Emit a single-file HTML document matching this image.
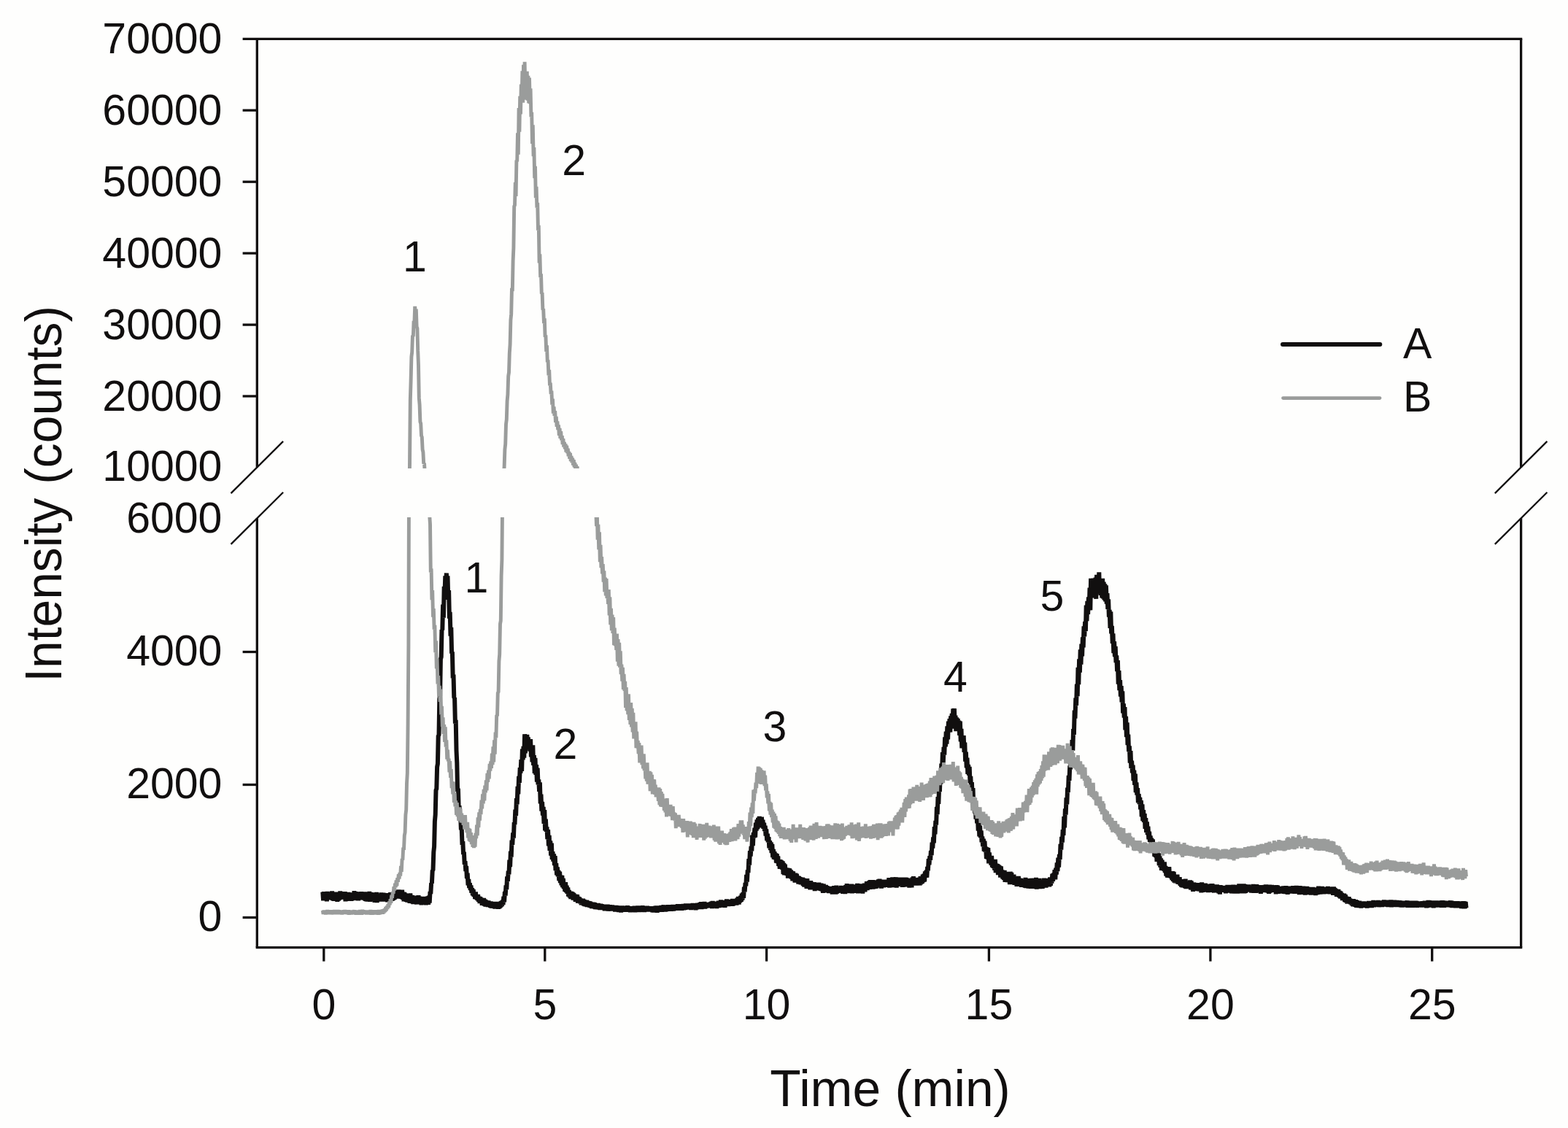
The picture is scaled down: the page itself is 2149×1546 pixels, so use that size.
<!DOCTYPE html>
<html lang="en"><head><meta charset="utf-8"><title>Chromatogram</title>
<style>html,body{margin:0;padding:0;background:#fefefd;}body{width:2149px;height:1546px;overflow:hidden;}svg{display:block;}text{font-family:'Liberation Sans', sans-serif;fill:#110f0f;}</style></head><body>
<svg width="2149" height="1546" viewBox="0 0 2149 1546">
<rect width="2149" height="1546" fill="#fefefd"/>
<defs><clipPath id="cu"><rect x="352.3" y="53.3" width="1732.3" height="588.7"/></clipPath><clipPath id="cl"><rect x="352.3" y="709.0" width="1732.3" height="589.5999999999999"/></clipPath></defs>
<g fill="none" stroke-linejoin="bevel" stroke-linecap="butt">
<polyline clip-path="url(#cl)" stroke="#110f0f" stroke-width="6.0" points="442.3,1222.5 443.1,1234.3 443.9,1222.1 444.7,1232.2 445.5,1223.6 446.3,1234.3 447.1,1224.5 447.9,1235.2 448.7,1222.0 449.5,1233.0 450.3,1223.6 451.1,1232.4 451.9,1223.8 452.7,1233.0 453.5,1223.0 454.3,1233.3 455.1,1221.4 455.9,1234.1 456.7,1222.7 457.5,1234.7 458.3,1224.0 459.1,1232.1 459.9,1222.7 460.7,1231.8 461.5,1224.6 462.3,1235.7 463.1,1223.2 463.9,1234.6 464.7,1222.7 465.5,1233.3 466.3,1221.4 467.1,1232.5 467.9,1224.8 468.7,1232.4 469.5,1222.6 470.3,1232.4 471.1,1223.7 471.9,1231.8 472.7,1222.3 473.5,1235.3 474.3,1224.1 475.1,1234.7 475.9,1223.3 476.7,1234.6 477.5,1223.0 478.3,1234.3 479.1,1224.7 479.9,1233.7 480.7,1223.4 481.5,1234.8 482.3,1223.9 483.1,1233.9 483.9,1224.9 484.7,1233.3 485.5,1221.1 486.3,1232.6 487.1,1222.6 487.9,1233.4 488.7,1222.2 489.5,1234.1 490.3,1223.4 491.1,1234.3 491.9,1223.3 492.7,1232.8 493.5,1224.1 494.3,1233.2 495.1,1222.2 495.9,1232.8 496.7,1222.5 497.5,1233.2 498.3,1223.5 499.1,1233.5 499.9,1222.4 500.7,1234.7 501.5,1225.3 502.3,1235.3 503.1,1222.9 503.9,1235.6 504.7,1224.1 505.5,1233.3 506.3,1221.9 507.1,1235.8 507.9,1224.3 508.7,1233.5 509.5,1223.3 510.3,1235.0 511.1,1224.3 511.9,1234.2 512.7,1224.8 513.5,1236.7 514.3,1226.0 515.1,1235.8 515.9,1223.0 516.7,1237.1 517.5,1225.3 518.3,1235.5 519.1,1226.2 519.9,1234.4 520.7,1226.3 521.5,1233.7 522.3,1223.4 523.1,1235.4 523.9,1225.1 524.7,1235.0 525.5,1223.8 526.3,1234.5 527.1,1224.7 527.9,1235.5 528.7,1225.4 529.5,1235.1 530.3,1224.2 531.1,1236.2 531.9,1226.0 532.7,1236.1 533.5,1226.2 534.3,1235.3 535.1,1223.3 535.9,1233.0 536.7,1224.1 537.5,1234.7 538.3,1224.9 539.1,1233.7 539.9,1222.0 540.7,1232.9 541.5,1219.7 542.3,1231.5 543.1,1222.8 543.9,1231.3 544.7,1222.3 545.5,1230.8 546.3,1219.4 547.1,1231.4 547.9,1221.4 548.7,1230.6 549.5,1219.9 550.3,1231.8 551.1,1219.8 551.9,1232.7 552.7,1222.8 553.5,1235.3 554.3,1222.9 555.1,1234.3 555.9,1224.5 556.7,1235.8 557.5,1225.3 558.3,1236.6 559.1,1227.0 559.9,1235.7 560.7,1226.3 561.5,1237.8 562.3,1224.4 563.1,1237.9 563.9,1226.9 564.7,1238.0 565.5,1227.3 566.3,1239.0 567.1,1228.4 567.9,1237.5 568.7,1229.1 569.5,1236.7 570.3,1229.3 571.1,1239.4 571.9,1227.7 572.7,1237.3 573.5,1227.2 574.3,1238.6 575.1,1228.8 575.9,1239.2 576.7,1229.8 577.5,1240.2 578.3,1229.5 579.1,1239.4 579.9,1229.1 580.7,1238.3 581.5,1230.8 582.3,1239.0 583.1,1228.9 583.9,1240.2 584.7,1229.0 585.5,1238.2 586.3,1228.5 587.1,1239.8 587.9,1227.7 588.7,1237.6 589.5,1222.0 590.3,1225.2 591.1,1210.4 591.9,1210.5 592.7,1193.1 593.5,1192.6 594.3,1167.8 595.1,1160.3 595.9,1125.8 596.7,1116.5 597.5,1082.8 598.3,1081.5 599.1,1051.1 599.9,1046.9 600.7,1008.4 601.5,1007.8 602.3,958.0 603.1,953.2 603.9,903.4 604.7,900.4 605.5,863.0 606.3,863.4 607.1,828.5 607.9,846.8 608.7,803.9 609.5,814.0 610.3,789.4 611.1,802.3 611.9,785.5 612.7,808.8 613.5,789.2 614.3,821.8 615.1,809.0 615.9,847.6 616.7,838.8 617.5,871.6 618.3,859.8 619.1,895.6 619.9,893.3 620.7,929.4 621.5,924.5 622.3,956.1 623.1,956.6 623.9,991.6 624.7,986.7 625.5,1028.6 626.3,1045.3 627.1,1085.0 627.9,1080.6 628.7,1109.3 629.5,1104.1 630.3,1120.7 631.1,1117.0 631.9,1137.4 632.7,1134.8 633.5,1158.0 634.3,1153.1 635.1,1171.0 635.9,1167.7 636.7,1184.8 637.5,1180.2 638.3,1194.0 639.1,1187.0 639.9,1204.0 640.7,1196.7 641.5,1213.3 642.3,1205.0 643.1,1217.0 643.9,1210.3 644.7,1220.0 645.5,1213.6 646.3,1223.8 647.1,1217.3 647.9,1227.3 648.7,1218.9 649.5,1228.7 650.3,1222.5 651.1,1231.9 651.9,1222.5 652.7,1232.4 653.5,1226.2 654.3,1233.9 655.1,1226.1 655.9,1235.7 656.7,1228.7 657.5,1238.0 658.3,1229.3 659.1,1237.8 659.9,1230.7 660.7,1240.7 661.5,1231.9 662.3,1240.7 663.1,1231.0 663.9,1241.6 664.7,1232.8 665.5,1242.4 666.3,1233.7 667.1,1242.2 667.9,1235.4 668.7,1243.0 669.5,1234.6 670.3,1242.8 671.1,1235.9 671.9,1243.7 672.7,1235.4 673.5,1244.6 674.3,1236.7 675.1,1243.7 675.9,1235.9 676.7,1244.7 677.5,1236.3 678.3,1245.5 679.1,1236.1 679.9,1245.4 680.7,1236.5 681.5,1244.8 682.3,1236.8 683.1,1245.8 683.9,1236.4 684.7,1245.0 685.5,1235.7 686.3,1243.5 687.1,1235.0 687.9,1242.0 688.7,1233.7 689.5,1240.1 690.3,1228.6 691.1,1236.4 691.9,1222.0 692.7,1227.5 693.5,1213.5 694.3,1219.0 695.1,1201.4 695.9,1207.9 696.7,1193.6 697.5,1198.3 698.3,1178.5 699.1,1188.1 699.9,1166.6 700.7,1174.6 701.5,1151.7 702.3,1157.8 703.1,1141.5 703.9,1148.7 704.7,1127.0 705.5,1130.1 706.3,1109.7 707.1,1118.2 707.9,1094.1 708.7,1102.5 709.5,1077.8 710.3,1088.3 711.1,1063.9 711.9,1072.9 712.7,1052.2 713.5,1059.5 714.3,1041.1 715.1,1056.8 715.9,1026.6 716.7,1041.7 717.5,1022.9 718.3,1038.7 719.1,1006.2 719.9,1032.5 720.7,1009.4 721.5,1023.5 722.3,1006.9 723.1,1020.5 723.9,1010.4 724.7,1027.4 725.5,1014.2 726.3,1029.6 727.1,1013.0 727.9,1037.4 728.7,1024.2 729.5,1044.3 730.3,1021.4 731.1,1048.8 731.9,1035.1 732.7,1059.9 733.5,1038.9 734.3,1061.9 735.1,1048.2 735.9,1071.6 736.7,1052.7 737.5,1075.4 738.3,1068.4 739.1,1084.8 739.9,1072.3 740.7,1101.4 741.5,1088.6 742.3,1111.6 743.1,1098.8 743.9,1117.6 744.7,1105.9 745.5,1129.0 746.3,1110.1 747.1,1138.3 747.9,1122.7 748.7,1139.8 749.5,1133.3 750.3,1150.2 751.1,1137.2 751.9,1159.3 752.7,1144.9 753.5,1166.0 754.3,1152.4 755.1,1172.7 755.9,1155.7 756.7,1177.9 757.5,1167.1 758.3,1180.6 759.1,1170.5 759.9,1186.0 760.7,1173.1 761.5,1193.2 762.3,1183.2 763.1,1199.3 763.9,1188.5 764.7,1201.4 765.5,1192.8 766.3,1207.1 767.1,1194.6 767.9,1210.0 768.7,1199.6 769.5,1213.4 770.3,1199.8 771.1,1216.0 771.9,1203.9 772.7,1218.1 773.5,1209.2 774.3,1221.9 775.1,1209.1 775.9,1223.1 776.7,1213.8 777.5,1224.9 778.3,1216.5 779.1,1228.6 779.9,1220.0 780.7,1230.0 781.5,1221.7 782.3,1232.1 783.1,1222.0 783.9,1231.9 784.7,1222.8 785.5,1233.4 786.3,1224.1 787.1,1233.5 787.9,1225.8 788.7,1235.7 789.5,1226.0 790.3,1235.4 791.1,1226.2 791.9,1237.6 792.7,1229.0 793.5,1237.2 794.3,1229.7 795.1,1238.3 795.9,1231.4 796.7,1240.3 797.5,1232.1 798.3,1240.1 799.1,1231.8 799.9,1241.2 800.7,1232.9 801.5,1242.0 802.3,1233.8 803.1,1242.3 803.9,1233.8 804.7,1242.9 805.5,1234.7 806.3,1243.0 807.1,1235.4 807.9,1243.5 808.7,1235.6 809.5,1244.0 810.3,1236.6 811.1,1245.0 811.9,1237.0 812.7,1244.7 813.5,1236.9 814.3,1245.2 815.1,1237.2 815.9,1246.1 816.7,1238.1 817.5,1246.3 818.3,1239.0 819.1,1246.0 819.9,1238.0 820.7,1246.5 821.5,1238.7 822.3,1246.9 823.1,1238.8 823.9,1247.0 824.7,1239.4 825.5,1246.6 826.3,1239.9 827.1,1247.0 827.9,1239.9 828.7,1248.2 829.5,1240.2 830.3,1247.6 831.1,1240.4 831.9,1248.0 832.7,1239.7 833.5,1248.6 834.3,1240.8 835.1,1247.9 835.9,1240.2 836.7,1248.4 837.5,1240.7 838.3,1247.9 839.1,1240.6 839.9,1248.4 840.7,1241.2 841.5,1248.4 842.3,1241.5 843.1,1249.4 843.9,1241.0 844.7,1249.0 845.5,1241.2 846.3,1249.1 847.1,1241.9 847.9,1250.0 848.7,1242.2 849.5,1249.0 850.3,1241.6 851.1,1250.4 851.9,1242.5 852.7,1249.7 853.5,1241.5 854.3,1249.3 855.1,1242.6 855.9,1249.7 856.7,1242.4 857.5,1249.7 858.3,1242.2 859.1,1249.7 859.9,1241.3 860.7,1249.5 861.5,1242.0 862.3,1249.7 863.1,1242.5 863.9,1250.2 864.7,1242.4 865.5,1249.3 866.3,1242.5 867.1,1249.0 867.9,1242.3 868.7,1250.0 869.5,1241.9 870.3,1250.3 871.1,1242.7 871.9,1249.4 872.7,1241.8 873.5,1249.6 874.3,1241.6 875.1,1249.9 875.9,1242.1 876.7,1250.0 877.5,1241.9 878.3,1249.5 879.1,1242.6 879.9,1249.6 880.7,1241.4 881.5,1249.2 882.3,1242.3 883.1,1249.9 883.9,1242.8 884.7,1249.2 885.5,1242.7 886.3,1249.4 887.1,1241.7 887.9,1249.1 888.7,1242.7 889.5,1249.3 890.3,1242.3 891.1,1249.1 891.9,1242.3 892.7,1249.3 893.5,1242.6 894.3,1250.1 895.1,1242.7 895.9,1250.4 896.7,1242.3 897.5,1249.5 898.3,1241.7 899.1,1249.1 899.9,1241.5 900.7,1250.7 901.5,1241.8 902.3,1248.8 903.1,1241.7 903.9,1249.5 904.7,1241.5 905.5,1248.9 906.3,1241.1 907.1,1249.7 907.9,1242.2 908.7,1248.8 909.5,1240.4 910.3,1249.4 911.1,1240.8 911.9,1249.5 912.7,1240.5 913.5,1249.0 914.3,1240.9 915.1,1248.7 915.9,1240.4 916.7,1248.6 917.5,1241.1 918.3,1248.4 919.1,1241.4 919.9,1248.6 920.7,1240.3 921.5,1248.0 922.3,1240.0 923.1,1248.4 923.9,1240.6 924.7,1247.3 925.5,1240.8 926.3,1247.3 927.1,1240.4 927.9,1247.6 928.7,1239.4 929.5,1247.2 930.3,1239.3 931.1,1247.7 931.9,1239.3 932.7,1247.2 933.5,1240.4 934.3,1247.7 935.1,1239.9 935.9,1246.6 936.7,1239.0 937.5,1247.3 938.3,1239.8 939.1,1246.6 939.9,1238.5 940.7,1246.5 941.5,1238.8 942.3,1246.1 943.1,1238.5 943.9,1246.0 944.7,1238.8 945.5,1245.8 946.3,1238.6 947.1,1246.9 947.9,1239.2 948.7,1245.9 949.5,1238.1 950.3,1246.3 951.1,1238.6 951.9,1246.2 952.7,1238.3 953.5,1247.2 954.3,1238.4 955.1,1246.2 955.9,1237.7 956.7,1246.0 957.5,1238.0 958.3,1245.9 959.1,1237.4 959.9,1245.2 960.7,1236.3 961.5,1246.0 962.3,1237.1 963.1,1244.7 963.9,1236.9 964.7,1244.7 965.5,1236.1 966.3,1245.5 967.1,1237.1 967.9,1244.4 968.7,1237.2 969.5,1243.9 970.3,1237.2 971.1,1244.1 971.9,1237.1 972.7,1243.7 973.5,1236.5 974.3,1243.8 975.1,1235.9 975.9,1244.9 976.7,1234.9 977.5,1244.1 978.3,1236.0 979.1,1243.1 979.9,1236.5 980.7,1244.3 981.5,1235.7 982.3,1245.0 983.1,1236.3 983.9,1243.6 984.7,1234.8 985.5,1243.9 986.3,1236.0 987.1,1243.1 987.9,1233.6 988.7,1243.4 989.5,1235.6 990.3,1242.3 991.1,1234.1 991.9,1242.5 992.7,1234.5 993.5,1243.8 994.3,1234.6 995.1,1241.4 995.9,1232.6 996.7,1241.4 997.5,1234.6 998.3,1242.0 999.1,1232.9 999.9,1241.8 1000.7,1233.2 1001.5,1241.2 1002.3,1233.2 1003.1,1241.7 1003.9,1232.1 1004.7,1241.6 1005.5,1232.6 1006.3,1240.2 1007.1,1232.2 1007.9,1240.5 1008.7,1232.6 1009.5,1240.4 1010.3,1230.7 1011.1,1238.9 1011.9,1228.9 1012.7,1239.4 1013.5,1229.6 1014.3,1236.9 1015.1,1227.8 1015.9,1235.7 1016.7,1224.6 1017.5,1233.4 1018.3,1223.3 1019.1,1230.9 1019.9,1215.7 1020.7,1222.4 1021.5,1210.0 1022.3,1214.4 1023.1,1199.0 1023.9,1208.7 1024.7,1192.5 1025.5,1196.2 1026.3,1177.1 1027.1,1185.7 1027.9,1166.1 1028.7,1173.5 1029.5,1159.9 1030.3,1166.5 1031.1,1144.7 1031.9,1159.1 1032.7,1140.8 1033.5,1148.4 1034.3,1134.6 1035.1,1147.6 1035.9,1127.7 1036.7,1138.6 1037.5,1123.5 1038.3,1136.4 1039.1,1120.9 1039.9,1132.8 1040.7,1119.0 1041.5,1132.4 1042.3,1120.3 1043.1,1134.4 1043.9,1119.8 1044.7,1132.3 1045.5,1123.8 1046.3,1135.9 1047.1,1127.8 1047.9,1139.1 1048.7,1131.7 1049.5,1145.6 1050.3,1136.5 1051.1,1152.1 1051.9,1142.7 1052.7,1154.4 1053.5,1147.2 1054.3,1162.4 1055.1,1152.2 1055.9,1165.1 1056.7,1154.3 1057.5,1169.1 1058.3,1156.9 1059.1,1175.0 1059.9,1163.9 1060.7,1177.5 1061.5,1167.3 1062.3,1177.9 1063.1,1169.4 1063.9,1182.5 1064.7,1170.1 1065.5,1183.1 1066.3,1173.5 1067.1,1186.8 1067.9,1178.2 1068.7,1190.9 1069.5,1178.2 1070.3,1189.7 1071.1,1179.4 1071.9,1191.5 1072.7,1180.5 1073.5,1198.0 1074.3,1183.0 1075.1,1199.4 1075.9,1184.8 1076.7,1198.4 1077.5,1189.5 1078.3,1199.7 1079.1,1189.6 1079.9,1203.5 1080.7,1190.0 1081.5,1202.9 1082.3,1190.5 1083.1,1202.4 1083.9,1192.5 1084.7,1204.5 1085.5,1193.9 1086.3,1207.3 1087.1,1194.4 1087.9,1206.3 1088.7,1197.3 1089.5,1209.6 1090.3,1196.7 1091.1,1208.6 1091.9,1197.7 1092.7,1209.6 1093.5,1200.5 1094.3,1211.6 1095.1,1201.1 1095.9,1211.4 1096.7,1202.2 1097.5,1212.2 1098.3,1203.7 1099.1,1211.8 1099.9,1202.6 1100.7,1214.1 1101.5,1203.6 1102.3,1215.5 1103.1,1205.7 1103.9,1214.4 1104.7,1206.2 1105.5,1217.7 1106.3,1204.2 1107.1,1216.1 1107.9,1207.3 1108.7,1217.4 1109.5,1208.3 1110.3,1219.2 1111.1,1207.3 1111.9,1218.8 1112.7,1209.0 1113.5,1218.9 1114.3,1210.3 1115.1,1218.7 1115.9,1209.1 1116.7,1221.1 1117.5,1210.2 1118.3,1220.1 1119.1,1210.0 1119.9,1219.2 1120.7,1210.1 1121.5,1219.5 1122.3,1209.8 1123.1,1220.3 1123.9,1212.3 1124.7,1220.7 1125.5,1210.6 1126.3,1221.3 1127.1,1212.2 1127.9,1223.7 1128.7,1211.6 1129.5,1221.4 1130.3,1213.2 1131.1,1223.3 1131.9,1213.0 1132.7,1222.9 1133.5,1214.4 1134.3,1222.2 1135.1,1215.5 1135.9,1224.0 1136.7,1215.6 1137.5,1223.2 1138.3,1215.0 1139.1,1223.0 1139.9,1216.0 1140.7,1225.5 1141.5,1215.0 1142.3,1223.6 1143.1,1214.2 1143.9,1223.0 1144.7,1215.5 1145.5,1225.6 1146.3,1213.6 1147.1,1224.6 1147.9,1215.8 1148.7,1223.7 1149.5,1215.8 1150.3,1223.3 1151.1,1215.7 1151.9,1222.9 1152.7,1213.9 1153.5,1222.7 1154.3,1215.1 1155.1,1224.8 1155.9,1214.4 1156.7,1223.0 1157.5,1215.0 1158.3,1225.0 1159.1,1213.2 1159.9,1223.4 1160.7,1211.3 1161.5,1222.1 1162.3,1214.3 1163.1,1223.4 1163.9,1212.3 1164.7,1224.0 1165.5,1213.1 1166.3,1223.2 1167.1,1211.6 1167.9,1224.2 1168.7,1214.6 1169.5,1222.0 1170.3,1212.8 1171.1,1223.9 1171.9,1212.5 1172.7,1222.8 1173.5,1214.2 1174.3,1221.6 1175.1,1210.9 1175.9,1224.2 1176.7,1213.9 1177.5,1223.8 1178.3,1211.4 1179.1,1222.1 1179.9,1212.9 1180.7,1221.1 1181.5,1212.9 1182.3,1224.6 1183.1,1211.7 1183.9,1221.8 1184.7,1210.7 1185.5,1222.4 1186.3,1211.7 1187.1,1219.9 1187.9,1208.3 1188.7,1219.9 1189.5,1211.0 1190.3,1217.9 1191.1,1207.6 1191.9,1218.9 1192.7,1206.3 1193.5,1218.1 1194.3,1207.9 1195.1,1217.4 1195.9,1206.1 1196.7,1218.6 1197.5,1208.3 1198.3,1216.0 1199.1,1207.3 1199.9,1217.9 1200.7,1206.4 1201.5,1217.4 1202.3,1206.4 1203.1,1215.6 1203.9,1205.4 1204.7,1214.8 1205.5,1204.7 1206.3,1215.2 1207.1,1206.2 1207.9,1217.5 1208.7,1205.8 1209.5,1214.5 1210.3,1206.0 1211.1,1216.3 1211.9,1207.0 1212.7,1214.9 1213.5,1207.0 1214.3,1215.7 1215.1,1205.8 1215.9,1215.4 1216.7,1206.0 1217.5,1215.8 1218.3,1203.1 1219.1,1216.5 1219.9,1203.7 1220.7,1215.1 1221.5,1205.1 1222.3,1216.2 1223.1,1202.4 1223.9,1215.9 1224.7,1205.5 1225.5,1215.6 1226.3,1205.3 1227.1,1215.1 1227.9,1202.3 1228.7,1216.5 1229.5,1203.6 1230.3,1214.8 1231.1,1204.9 1231.9,1214.1 1232.7,1202.7 1233.5,1213.7 1234.3,1204.0 1235.1,1213.2 1235.9,1203.8 1236.7,1215.8 1237.5,1202.7 1238.3,1215.5 1239.1,1203.2 1239.9,1213.3 1240.7,1202.7 1241.5,1213.3 1242.3,1203.0 1243.1,1215.4 1243.9,1203.7 1244.7,1214.2 1245.5,1205.0 1246.3,1216.6 1247.1,1204.7 1247.9,1212.9 1248.7,1205.1 1249.5,1216.3 1250.3,1202.6 1251.1,1212.9 1251.9,1201.2 1252.7,1213.2 1253.5,1205.0 1254.3,1212.9 1255.1,1203.5 1255.9,1213.6 1256.7,1203.9 1257.5,1212.8 1258.3,1203.1 1259.1,1213.0 1259.9,1203.8 1260.7,1213.4 1261.5,1201.3 1262.3,1212.1 1263.1,1201.3 1263.9,1210.9 1264.7,1198.8 1265.5,1209.1 1266.3,1197.7 1267.1,1208.3 1267.9,1194.3 1268.7,1202.8 1269.5,1192.8 1270.3,1202.7 1271.1,1187.8 1271.9,1193.3 1272.7,1177.2 1273.5,1185.2 1274.3,1173.2 1275.1,1178.8 1275.9,1165.9 1276.7,1172.1 1277.5,1154.7 1278.3,1162.5 1279.1,1147.5 1279.9,1155.3 1280.7,1133.2 1281.5,1143.3 1282.3,1125.0 1283.1,1130.7 1283.9,1105.8 1284.7,1116.2 1285.5,1092.0 1286.3,1101.8 1287.1,1079.6 1287.9,1085.1 1288.7,1063.4 1289.5,1074.4 1290.3,1046.5 1291.1,1056.3 1291.9,1031.0 1292.7,1047.9 1293.5,1023.8 1294.3,1034.7 1295.1,1010.4 1295.9,1023.3 1296.7,1002.6 1297.5,1019.6 1298.3,995.4 1299.1,1013.3 1299.9,988.6 1300.7,1003.6 1301.5,985.1 1302.3,1003.7 1303.1,981.4 1303.9,998.7 1304.7,977.8 1305.5,998.6 1306.3,971.3 1307.1,989.7 1307.9,971.0 1308.7,995.7 1309.5,980.7 1310.3,1002.2 1311.1,983.3 1311.9,999.7 1312.7,984.8 1313.5,1001.2 1314.3,987.7 1315.1,1007.9 1315.9,988.6 1316.7,1016.4 1317.5,998.9 1318.3,1025.4 1319.1,1008.2 1319.9,1024.8 1320.7,1008.2 1321.5,1030.8 1322.3,1017.6 1323.1,1043.6 1323.9,1030.7 1324.7,1052.4 1325.5,1038.6 1326.3,1060.9 1327.1,1048.0 1327.9,1062.6 1328.7,1050.9 1329.5,1073.1 1330.3,1063.8 1331.1,1082.2 1331.9,1072.2 1332.7,1092.5 1333.5,1080.2 1334.3,1105.7 1335.1,1096.4 1335.9,1114.6 1336.7,1100.5 1337.5,1122.6 1338.3,1110.4 1339.1,1128.3 1339.9,1117.8 1340.7,1138.6 1341.5,1125.0 1342.3,1146.4 1343.1,1131.7 1343.9,1148.2 1344.7,1138.5 1345.5,1154.4 1346.3,1146.4 1347.1,1160.2 1347.9,1149.7 1348.7,1166.5 1349.5,1152.6 1350.3,1167.7 1351.1,1160.7 1351.9,1176.9 1352.7,1161.3 1353.5,1177.7 1354.3,1162.0 1355.1,1183.3 1355.9,1168.5 1356.7,1182.2 1357.5,1173.9 1358.3,1185.5 1359.1,1172.8 1359.9,1188.5 1360.7,1178.9 1361.5,1189.9 1362.3,1179.6 1363.1,1192.6 1363.9,1177.8 1364.7,1196.0 1365.5,1183.6 1366.3,1195.3 1367.1,1184.2 1367.9,1199.1 1368.7,1185.5 1369.5,1198.8 1370.3,1186.6 1371.1,1202.7 1371.9,1187.5 1372.7,1200.9 1373.5,1192.5 1374.3,1204.5 1375.1,1193.1 1375.9,1205.8 1376.7,1193.0 1377.5,1208.8 1378.3,1196.2 1379.1,1207.6 1379.9,1197.2 1380.7,1209.1 1381.5,1194.9 1382.3,1207.3 1383.1,1198.7 1383.9,1212.0 1384.7,1194.8 1385.5,1208.2 1386.3,1196.0 1387.1,1209.4 1387.9,1199.9 1388.7,1211.6 1389.5,1198.7 1390.3,1212.9 1391.1,1202.2 1391.9,1212.2 1392.7,1201.5 1393.5,1214.7 1394.3,1203.6 1395.1,1213.3 1395.9,1200.9 1396.7,1213.3 1397.5,1203.8 1398.3,1214.2 1399.1,1203.9 1399.9,1215.9 1400.7,1205.0 1401.5,1213.5 1402.3,1205.3 1403.1,1215.7 1403.9,1204.9 1404.7,1216.6 1405.5,1203.0 1406.3,1217.0 1407.1,1205.6 1407.9,1213.8 1408.7,1205.3 1409.5,1217.6 1410.3,1204.2 1411.1,1214.5 1411.9,1204.6 1412.7,1217.8 1413.5,1203.8 1414.3,1217.2 1415.1,1204.3 1415.9,1217.8 1416.7,1206.3 1417.5,1215.2 1418.3,1205.0 1419.1,1215.4 1419.9,1203.0 1420.7,1218.5 1421.5,1205.7 1422.3,1216.8 1423.1,1204.2 1423.9,1215.9 1424.7,1204.0 1425.5,1218.0 1426.3,1206.2 1427.1,1215.8 1427.9,1206.9 1428.7,1217.8 1429.5,1206.5 1430.3,1214.3 1431.1,1203.7 1431.9,1216.2 1432.7,1204.2 1433.5,1216.5 1434.3,1206.3 1435.1,1213.8 1435.9,1204.3 1436.7,1213.3 1437.5,1203.9 1438.3,1215.4 1439.1,1202.4 1439.9,1213.8 1440.7,1203.2 1441.5,1210.6 1442.3,1197.8 1443.1,1207.9 1443.9,1196.7 1444.7,1205.1 1445.5,1192.1 1446.3,1205.4 1447.1,1189.7 1447.9,1198.5 1448.7,1182.5 1449.5,1194.2 1450.3,1175.6 1451.1,1188.6 1451.9,1170.8 1452.7,1178.0 1453.5,1156.8 1454.3,1164.6 1455.1,1146.9 1455.9,1154.7 1456.7,1137.1 1457.5,1144.8 1458.3,1119.2 1459.1,1134.4 1459.9,1108.3 1460.7,1116.6 1461.5,1093.3 1462.3,1102.4 1463.1,1079.6 1463.9,1086.0 1464.7,1062.8 1465.5,1069.9 1466.3,1049.4 1467.1,1054.5 1467.9,1026.3 1468.7,1041.0 1469.5,1014.2 1470.3,1028.6 1471.1,999.2 1471.9,1007.0 1472.7,973.6 1473.5,984.6 1474.3,956.7 1475.1,967.0 1475.9,937.5 1476.7,954.3 1477.5,914.9 1478.3,938.4 1479.1,903.4 1479.9,921.7 1480.7,890.3 1481.5,910.9 1482.3,882.7 1483.1,899.3 1483.9,873.4 1484.7,887.3 1485.5,858.3 1486.3,872.5 1487.1,851.9 1487.9,865.2 1488.7,829.6 1489.5,851.1 1490.3,823.8 1491.1,841.9 1491.9,818.3 1492.7,834.5 1493.5,805.7 1494.3,836.4 1495.1,792.8 1495.9,819.5 1496.7,795.5 1497.5,819.4 1498.3,792.6 1499.1,816.0 1499.9,798.7 1500.7,817.0 1501.5,791.6 1502.3,820.8 1503.1,787.8 1503.9,810.1 1504.7,788.8 1505.5,812.3 1506.3,784.4 1507.1,813.8 1507.9,794.4 1508.7,815.8 1509.5,792.9 1510.3,819.3 1511.1,792.9 1511.9,820.4 1512.7,797.5 1513.5,822.4 1514.3,800.4 1515.1,824.3 1515.9,802.3 1516.7,827.6 1517.5,813.1 1518.3,835.0 1519.1,821.4 1519.9,845.6 1520.7,835.8 1521.5,861.0 1522.3,838.3 1523.1,868.4 1523.9,857.8 1524.7,881.8 1525.5,868.3 1526.3,895.2 1527.1,879.0 1527.9,900.1 1528.7,885.8 1529.5,908.1 1530.3,898.3 1531.1,920.1 1531.9,905.0 1532.7,937.7 1533.5,919.2 1534.3,946.2 1535.1,932.2 1535.9,954.7 1536.7,940.1 1537.5,962.5 1538.3,947.3 1539.1,977.3 1539.9,964.5 1540.7,983.6 1541.5,969.0 1542.3,1000.4 1543.1,981.8 1543.9,1010.2 1544.7,990.3 1545.5,1021.1 1546.3,1006.6 1547.1,1030.1 1547.9,1022.3 1548.7,1045.7 1549.5,1029.2 1550.3,1052.9 1551.1,1042.7 1551.9,1059.3 1552.7,1048.7 1553.5,1070.2 1554.3,1055.6 1555.1,1075.9 1555.9,1060.6 1556.7,1086.1 1557.5,1072.5 1558.3,1089.6 1559.1,1080.0 1559.9,1100.2 1560.7,1088.2 1561.5,1102.2 1562.3,1092.9 1563.1,1109.4 1563.9,1097.1 1564.7,1119.3 1565.5,1102.3 1566.3,1125.2 1567.1,1110.2 1567.9,1126.8 1568.7,1115.0 1569.5,1135.8 1570.3,1121.2 1571.1,1141.0 1571.9,1126.4 1572.7,1144.0 1573.5,1132.7 1574.3,1150.3 1575.1,1139.6 1575.9,1153.9 1576.7,1145.4 1577.5,1159.3 1578.3,1148.6 1579.1,1163.1 1579.9,1150.4 1580.7,1168.5 1581.5,1155.4 1582.3,1173.9 1583.1,1161.7 1583.9,1175.1 1584.7,1161.4 1585.5,1180.9 1586.3,1165.2 1587.1,1179.6 1587.9,1169.3 1588.7,1186.2 1589.5,1173.3 1590.3,1188.5 1591.1,1176.4 1591.9,1192.9 1592.7,1178.7 1593.5,1190.8 1594.3,1182.1 1595.1,1193.6 1595.9,1181.5 1596.7,1196.0 1597.5,1187.0 1598.3,1200.6 1599.1,1189.4 1599.9,1202.5 1600.7,1188.3 1601.5,1202.9 1602.3,1188.2 1603.1,1202.5 1603.9,1194.6 1604.7,1203.5 1605.5,1195.0 1606.3,1206.1 1607.1,1194.2 1607.9,1207.8 1608.7,1194.9 1609.5,1209.7 1610.3,1199.8 1611.1,1210.2 1611.9,1200.9 1612.7,1209.4 1613.5,1198.6 1614.3,1211.6 1615.1,1202.9 1615.9,1211.7 1616.7,1202.3 1617.5,1213.8 1618.3,1205.4 1619.1,1215.5 1619.9,1205.4 1620.7,1216.4 1621.5,1205.3 1622.3,1216.1 1623.1,1206.0 1623.9,1217.1 1624.7,1204.7 1625.5,1218.0 1626.3,1208.3 1627.1,1217.4 1627.9,1208.2 1628.7,1216.6 1629.5,1208.8 1630.3,1217.4 1631.1,1206.4 1631.9,1219.4 1632.7,1207.5 1633.5,1219.6 1634.3,1209.6 1635.1,1221.9 1635.9,1209.6 1636.7,1219.0 1637.5,1210.0 1638.3,1220.8 1639.1,1211.4 1639.9,1219.5 1640.7,1210.5 1641.5,1221.0 1642.3,1210.3 1643.1,1221.4 1643.9,1212.1 1644.7,1220.0 1645.5,1211.8 1646.3,1223.3 1647.1,1209.4 1647.9,1222.7 1648.7,1211.1 1649.5,1220.1 1650.3,1212.4 1651.1,1222.5 1651.9,1210.7 1652.7,1222.0 1653.5,1212.5 1654.3,1221.5 1655.1,1211.8 1655.9,1223.0 1656.7,1212.8 1657.5,1221.2 1658.3,1213.9 1659.1,1221.2 1659.9,1211.6 1660.7,1222.7 1661.5,1211.3 1662.3,1221.2 1663.1,1213.2 1663.9,1223.4 1664.7,1212.5 1665.5,1221.4 1666.3,1213.3 1667.1,1223.2 1667.9,1212.6 1668.7,1222.7 1669.5,1214.2 1670.3,1224.3 1671.1,1213.5 1671.9,1225.5 1672.7,1213.3 1673.5,1221.9 1674.3,1214.3 1675.1,1222.0 1675.9,1214.5 1676.7,1222.4 1677.5,1213.9 1678.3,1222.8 1679.1,1214.1 1679.9,1224.3 1680.7,1215.1 1681.5,1222.3 1682.3,1212.9 1683.1,1223.5 1683.9,1214.0 1684.7,1222.8 1685.5,1213.8 1686.3,1222.7 1687.1,1212.9 1687.9,1224.4 1688.7,1214.4 1689.5,1222.2 1690.3,1212.8 1691.1,1222.9 1691.9,1213.4 1692.7,1224.5 1693.5,1213.0 1694.3,1224.5 1695.1,1213.9 1695.9,1224.4 1696.7,1213.9 1697.5,1222.7 1698.3,1211.5 1699.1,1222.9 1699.9,1212.9 1700.7,1224.2 1701.5,1211.5 1702.3,1222.3 1703.1,1213.9 1703.9,1223.1 1704.7,1211.5 1705.5,1224.4 1706.3,1212.2 1707.1,1223.7 1707.9,1212.9 1708.7,1222.4 1709.5,1213.7 1710.3,1221.6 1711.1,1212.4 1711.9,1222.3 1712.7,1214.4 1713.5,1222.3 1714.3,1213.7 1715.1,1223.4 1715.9,1214.5 1716.7,1222.0 1717.5,1212.0 1718.3,1223.7 1719.1,1212.7 1719.9,1222.9 1720.7,1213.8 1721.5,1223.7 1722.3,1212.3 1723.1,1222.7 1723.9,1213.9 1724.7,1221.8 1725.5,1213.3 1726.3,1222.2 1727.1,1214.2 1727.9,1224.7 1728.7,1213.1 1729.5,1222.1 1730.3,1213.4 1731.1,1222.2 1731.9,1213.4 1732.7,1223.1 1733.5,1213.1 1734.3,1221.9 1735.1,1212.4 1735.9,1222.9 1736.7,1213.4 1737.5,1223.6 1738.3,1212.6 1739.1,1224.7 1739.9,1212.6 1740.7,1223.6 1741.5,1212.9 1742.3,1222.2 1743.1,1213.1 1743.9,1222.6 1744.7,1214.4 1745.5,1222.3 1746.3,1214.1 1747.1,1222.2 1747.9,1213.5 1748.7,1225.3 1749.5,1213.3 1750.3,1222.7 1751.1,1213.8 1751.9,1224.8 1752.7,1215.6 1753.5,1223.1 1754.3,1215.0 1755.1,1223.9 1755.9,1215.4 1756.7,1224.2 1757.5,1215.0 1758.3,1224.6 1759.1,1214.6 1759.9,1224.8 1760.7,1215.4 1761.5,1224.9 1762.3,1214.1 1763.1,1225.0 1763.9,1216.0 1764.7,1225.7 1765.5,1214.7 1766.3,1223.8 1767.1,1215.1 1767.9,1224.6 1768.7,1214.9 1769.5,1223.9 1770.3,1215.7 1771.1,1224.3 1771.9,1214.3 1772.7,1224.5 1773.5,1216.4 1774.3,1224.6 1775.1,1216.0 1775.9,1223.4 1776.7,1214.0 1777.5,1224.3 1778.3,1215.2 1779.1,1224.5 1779.9,1216.6 1780.7,1226.0 1781.5,1214.2 1782.3,1224.1 1783.1,1215.7 1783.9,1224.7 1784.7,1216.4 1785.5,1225.5 1786.3,1214.8 1787.1,1225.8 1787.9,1215.1 1788.7,1226.5 1789.5,1216.4 1790.3,1225.2 1791.1,1215.1 1791.9,1224.9 1792.7,1215.8 1793.5,1226.1 1794.3,1217.0 1795.1,1224.6 1795.9,1216.3 1796.7,1226.6 1797.5,1216.5 1798.3,1224.0 1799.1,1216.0 1799.9,1225.7 1800.7,1216.7 1801.5,1226.2 1802.3,1216.6 1803.1,1227.0 1803.9,1216.7 1804.7,1226.3 1805.5,1216.6 1806.3,1225.9 1807.1,1214.8 1807.9,1224.6 1808.7,1216.9 1809.5,1225.5 1810.3,1215.7 1811.1,1225.2 1811.9,1215.0 1812.7,1225.2 1813.5,1215.8 1814.3,1225.2 1815.1,1215.9 1815.9,1225.0 1816.7,1216.7 1817.5,1224.7 1818.3,1216.4 1819.1,1224.6 1819.9,1215.0 1820.7,1224.2 1821.5,1216.6 1822.3,1225.3 1823.1,1216.3 1823.9,1224.5 1824.7,1216.1 1825.5,1225.3 1826.3,1215.4 1827.1,1226.9 1827.9,1215.4 1828.7,1225.9 1829.5,1217.1 1830.3,1226.5 1831.1,1218.5 1831.9,1228.7 1832.7,1219.8 1833.5,1227.6 1834.3,1219.1 1835.1,1229.4 1835.9,1221.0 1836.7,1231.2 1837.5,1221.8 1838.3,1231.5 1839.1,1223.9 1839.9,1234.1 1840.7,1225.2 1841.5,1233.6 1842.3,1224.8 1843.1,1236.0 1843.9,1226.1 1844.7,1236.9 1845.5,1228.7 1846.3,1238.4 1847.1,1229.2 1847.9,1237.2 1848.7,1229.2 1849.5,1238.0 1850.3,1231.5 1851.1,1239.3 1851.9,1233.0 1852.7,1240.7 1853.5,1233.6 1854.3,1242.1 1855.1,1232.2 1855.9,1241.7 1856.7,1233.5 1857.5,1242.8 1858.3,1233.1 1859.1,1243.8 1859.9,1234.2 1860.7,1243.2 1861.5,1235.5 1862.3,1244.0 1863.1,1234.9 1863.9,1243.3 1864.7,1236.5 1865.5,1244.4 1866.3,1235.8 1867.1,1243.4 1867.9,1236.0 1868.7,1243.6 1869.5,1235.5 1870.3,1243.6 1871.1,1236.6 1871.9,1243.1 1872.7,1236.3 1873.5,1244.5 1874.3,1236.4 1875.1,1243.6 1875.9,1235.1 1876.7,1242.7 1877.5,1236.0 1878.3,1243.9 1879.1,1236.2 1879.9,1243.9 1880.7,1234.9 1881.5,1242.6 1882.3,1234.0 1883.1,1243.1 1883.9,1234.8 1884.7,1242.5 1885.5,1235.2 1886.3,1242.3 1887.1,1235.2 1887.9,1242.1 1888.7,1234.0 1889.5,1243.1 1890.3,1234.8 1891.1,1242.7 1891.9,1234.5 1892.7,1241.9 1893.5,1234.6 1894.3,1243.0 1895.1,1234.6 1895.9,1242.3 1896.7,1233.6 1897.5,1241.8 1898.3,1233.8 1899.1,1241.5 1899.9,1233.9 1900.7,1242.6 1901.5,1233.8 1902.3,1242.9 1903.1,1234.0 1903.9,1243.0 1904.7,1234.7 1905.5,1242.3 1906.3,1233.6 1907.1,1243.3 1907.9,1234.6 1908.7,1242.7 1909.5,1234.1 1910.3,1241.6 1911.1,1233.9 1911.9,1242.0 1912.7,1235.0 1913.5,1243.0 1914.3,1234.1 1915.1,1242.9 1915.9,1235.0 1916.7,1242.6 1917.5,1234.3 1918.3,1242.4 1919.1,1234.4 1919.9,1243.2 1920.7,1235.0 1921.5,1243.4 1922.3,1235.2 1923.1,1243.3 1923.9,1234.9 1924.7,1242.6 1925.5,1235.1 1926.3,1243.1 1927.1,1235.1 1927.9,1242.4 1928.7,1234.4 1929.5,1243.8 1930.3,1236.0 1931.1,1243.8 1931.9,1235.2 1932.7,1242.5 1933.5,1234.8 1934.3,1243.0 1935.1,1235.0 1935.9,1243.6 1936.7,1235.2 1937.5,1242.4 1938.3,1234.8 1939.1,1243.4 1939.9,1234.7 1940.7,1242.7 1941.5,1234.9 1942.3,1243.7 1943.1,1235.5 1943.9,1242.9 1944.7,1235.6 1945.5,1242.3 1946.3,1235.7 1947.1,1242.8 1947.9,1235.9 1948.7,1243.5 1949.5,1235.4 1950.3,1243.2 1951.1,1235.7 1951.9,1242.9 1952.7,1234.9 1953.5,1243.0 1954.3,1235.2 1955.1,1244.3 1955.9,1235.2 1956.7,1243.7 1957.5,1234.1 1958.3,1243.1 1959.1,1234.2 1959.9,1242.4 1960.7,1234.6 1961.5,1243.1 1962.3,1235.7 1963.1,1243.5 1963.9,1234.8 1964.7,1244.2 1965.5,1234.6 1966.3,1242.4 1967.1,1235.3 1967.9,1243.5 1968.7,1234.6 1969.5,1243.3 1970.3,1235.1 1971.1,1242.9 1971.9,1235.2 1972.7,1243.2 1973.5,1234.7 1974.3,1243.6 1975.1,1234.5 1975.9,1243.8 1976.7,1234.2 1977.5,1243.6 1978.3,1234.5 1979.1,1243.6 1979.9,1235.7 1980.7,1243.1 1981.5,1234.9 1982.3,1242.5 1983.1,1235.8 1983.9,1243.2 1984.7,1235.0 1985.5,1242.9 1986.3,1235.1 1987.1,1243.0 1987.9,1234.4 1988.7,1243.5 1989.5,1234.8 1990.3,1244.1 1991.1,1235.2 1991.9,1243.2 1992.7,1235.4 1993.5,1243.8 1994.3,1236.1 1995.1,1244.1 1995.9,1235.4 1996.7,1243.7 1997.5,1235.4 1998.3,1243.3 1999.1,1236.7 1999.9,1244.3 2000.7,1236.5 2001.5,1244.1 2002.3,1235.5 2003.1,1245.1 2003.9,1236.0 2004.7,1244.5 2005.5,1235.2 2006.3,1245.2 2007.1,1235.5 2007.9,1245.0 2008.7,1236.1 2009.5,1244.4"/>
<polyline clip-path="url(#cl)" stroke="#9a9c9b" stroke-width="4.9" points="442.3,1247.8 443.1,1253.0 443.9,1247.5 444.7,1252.7 445.5,1247.8 446.3,1253.4 447.1,1247.9 447.9,1252.8 448.7,1247.2 449.5,1253.1 450.3,1247.6 451.1,1253.1 451.9,1247.4 452.7,1252.9 453.5,1247.2 454.3,1253.3 455.1,1247.4 455.9,1253.1 456.7,1247.3 457.5,1253.1 458.3,1247.2 459.1,1252.8 459.9,1247.5 460.7,1253.0 461.5,1247.1 462.3,1253.1 463.1,1247.1 463.9,1253.3 464.7,1247.3 465.5,1252.8 466.3,1247.6 467.1,1252.9 467.9,1247.8 468.7,1253.4 469.5,1247.6 470.3,1252.8 471.1,1247.4 471.9,1252.8 472.7,1247.2 473.5,1252.9 474.3,1247.9 475.1,1252.8 475.9,1247.6 476.7,1253.1 477.5,1247.2 478.3,1253.6 479.1,1247.6 479.9,1252.7 480.7,1247.8 481.5,1253.5 482.3,1247.5 483.1,1253.2 483.9,1247.9 484.7,1252.7 485.5,1247.2 486.3,1253.2 487.1,1247.7 487.9,1253.6 488.7,1247.8 489.5,1253.7 490.3,1247.9 491.1,1253.4 491.9,1247.5 492.7,1253.7 493.5,1247.0 494.3,1252.9 495.1,1247.8 495.9,1253.6 496.7,1246.8 497.5,1252.7 498.3,1247.3 499.1,1252.9 499.9,1247.8 500.7,1252.7 501.5,1247.7 502.3,1253.3 503.1,1247.5 503.9,1253.4 504.7,1247.7 505.5,1253.0 506.3,1247.7 507.1,1253.5 507.9,1247.1 508.7,1253.8 509.5,1247.5 510.3,1253.7 511.1,1247.3 511.9,1252.7 512.7,1247.8 513.5,1253.0 514.3,1247.7 515.1,1253.4 515.9,1247.3 516.7,1253.1 517.5,1247.3 518.3,1253.7 519.1,1247.1 519.9,1253.3 520.7,1247.5 521.5,1252.9 522.3,1247.3 523.1,1252.5 523.9,1246.5 524.7,1252.7 525.5,1246.2 526.3,1251.3 527.1,1245.4 527.9,1250.1 528.7,1243.0 529.5,1248.1 530.3,1241.5 531.1,1246.0 531.9,1239.1 532.7,1244.0 533.5,1235.5 534.3,1240.2 535.1,1232.2 535.9,1237.9 536.7,1227.0 537.5,1230.9 538.3,1222.2 539.1,1224.9 539.9,1215.3 540.7,1220.5 541.5,1210.6 542.3,1216.1 543.1,1206.5 543.9,1214.3 544.7,1203.2 545.5,1208.9 546.3,1198.2 547.1,1204.5 547.9,1195.9 548.7,1200.7 549.5,1186.9 550.3,1194.8 551.1,1176.9 551.9,1178.6 552.7,1161.7 553.5,1164.8 554.3,1145.1 555.1,1141.1 555.9,1116.7 556.7,1110.0 557.5,1073.7 558.3,1059.8 559.1,991.2 559.9,883.4 560.7,604.6 561.5,304.5 562.3,-400.0 563.1,-400.0 563.9,-400.0 564.7,-400.0 565.5,-400.0 566.3,-400.0 567.1,-400.0 567.9,-400.0 568.7,-400.0 569.5,-400.0 570.3,-400.0 571.1,-400.0 571.9,-400.0 572.7,-400.0 573.5,-400.0 574.3,-400.0 575.1,-400.0 575.9,-255.6 576.7,-198.3 577.5,-78.5 578.3,-23.6 579.1,97.6 579.9,167.0 580.7,280.0 581.5,306.2 582.3,401.4 583.1,412.1 583.9,497.4 584.7,509.5 585.5,574.5 586.3,584.0 587.1,646.3 587.9,653.0 588.7,706.4 589.5,718.3 590.3,784.5 591.1,779.2 591.9,822.2 592.7,809.1 593.5,845.7 594.3,834.1 595.1,862.6 595.9,856.8 596.7,894.3 597.5,878.4 598.3,916.4 599.1,902.5 599.9,937.5 600.7,926.1 601.5,954.8 602.3,939.8 603.1,961.8 603.9,944.6 604.7,979.5 605.5,967.8 606.3,996.2 607.1,983.4 607.9,1006.0 608.7,993.0 609.5,1016.8 610.3,996.3 611.1,1023.8 611.9,1014.2 612.7,1040.6 613.5,1027.7 614.3,1043.5 615.1,1039.6 615.9,1058.4 616.7,1043.2 617.5,1065.8 618.3,1054.1 619.1,1080.1 619.9,1071.1 620.7,1088.4 621.5,1071.5 622.3,1100.0 623.1,1086.8 623.9,1105.4 624.7,1097.3 625.5,1117.0 626.3,1100.1 627.1,1119.1 627.9,1107.0 628.7,1124.8 629.5,1106.4 630.3,1123.0 631.1,1108.3 631.9,1127.4 632.7,1114.7 633.5,1127.6 634.3,1120.0 635.1,1130.8 635.9,1120.0 636.7,1136.6 637.5,1117.0 638.3,1134.7 639.1,1128.2 639.9,1141.1 640.7,1126.9 641.5,1148.4 642.3,1134.8 643.1,1152.7 643.9,1135.9 644.7,1153.9 645.5,1141.2 646.3,1157.2 647.1,1147.9 647.9,1160.9 648.7,1150.1 649.5,1162.2 650.3,1145.0 651.1,1160.9 651.9,1141.9 652.7,1149.1 653.5,1130.6 654.3,1145.1 655.1,1120.4 655.9,1134.1 656.7,1113.4 657.5,1124.7 658.3,1108.9 659.1,1116.2 659.9,1096.6 660.7,1108.3 661.5,1088.3 662.3,1101.5 663.1,1081.9 663.9,1097.4 664.7,1076.5 665.5,1086.5 666.3,1069.4 667.1,1083.4 667.9,1059.8 668.7,1071.8 669.5,1055.7 670.3,1067.4 671.1,1046.8 671.9,1056.6 672.7,1043.3 673.5,1052.9 674.3,1032.6 675.1,1048.2 675.9,1023.3 676.7,1044.7 677.5,1014.2 678.3,1033.6 679.1,1003.6 679.9,1011.2 680.7,979.7 681.5,981.5 682.3,949.4 683.1,948.7 683.9,906.2 684.7,897.0 685.5,855.0 686.3,850.8 687.1,789.6 687.9,767.3 688.7,677.0 689.5,608.4 690.3,416.2 691.1,325.3 691.9,133.6 692.7,30.5 693.5,-187.9 694.3,-284.3 695.1,-400.0 695.9,-400.0 696.7,-400.0 697.5,-400.0 698.3,-400.0 699.1,-400.0 699.9,-400.0 700.7,-400.0 701.5,-400.0 702.3,-400.0 703.1,-400.0 703.9,-400.0 704.7,-400.0 705.5,-400.0 706.3,-400.0 707.1,-400.0 707.9,-400.0 708.7,-400.0 709.5,-400.0 710.3,-400.0 711.1,-400.0 711.9,-400.0 712.7,-400.0 713.5,-400.0 714.3,-400.0 715.1,-400.0 715.9,-400.0 716.7,-400.0 717.5,-400.0 718.3,-400.0 719.1,-400.0 719.9,-400.0 720.7,-400.0 721.5,-400.0 722.3,-400.0 723.1,-400.0 723.9,-400.0 724.7,-400.0 725.5,-400.0 726.3,-400.0 727.1,-400.0 727.9,-400.0 728.7,-400.0 729.5,-400.0 730.3,-400.0 731.1,-400.0 731.9,-400.0 732.7,-400.0 733.5,-400.0 734.3,-400.0 735.1,-400.0 735.9,-400.0 736.7,-400.0 737.5,-400.0 738.3,-400.0 739.1,-400.0 739.9,-400.0 740.7,-400.0 741.5,-400.0 742.3,-400.0 743.1,-400.0 743.9,-400.0 744.7,-400.0 745.5,-400.0 746.3,-400.0 747.1,-400.0 747.9,-400.0 748.7,-400.0 749.5,-400.0 750.3,-400.0 751.1,-400.0 751.9,-400.0 752.7,-400.0 753.5,-400.0 754.3,-400.0 755.1,-400.0 755.9,-400.0 756.7,-400.0 757.5,-400.0 758.3,-361.5 759.1,-400.0 759.9,-331.6 760.7,-357.6 761.5,-248.4 762.3,-285.1 763.1,-193.3 763.9,-223.7 764.7,-153.5 765.5,-179.1 766.3,-80.2 767.1,-136.2 767.9,-44.0 768.7,-96.6 769.5,-20.0 770.3,-41.8 771.1,33.8 771.9,-4.4 772.7,65.8 773.5,40.1 774.3,90.2 775.1,62.3 775.9,131.4 776.7,84.3 777.5,143.8 778.3,121.0 779.1,184.5 779.9,161.6 780.7,217.2 781.5,179.9 782.3,247.8 783.1,217.6 783.9,265.4 784.7,243.4 785.5,296.6 786.3,265.9 787.1,321.6 787.9,300.7 788.7,348.4 789.5,326.7 790.3,382.3 791.1,350.0 791.9,397.6 792.7,379.2 793.5,417.1 794.3,389.4 795.1,442.4 795.9,415.8 796.7,471.8 797.5,436.7 798.3,486.7 799.1,462.8 799.9,521.5 800.7,493.5 801.5,542.8 802.3,513.6 803.1,560.1 803.9,537.7 804.7,577.7 805.5,570.6 806.3,606.7 807.1,569.2 807.9,630.9 808.7,607.7 809.5,648.9 810.3,615.3 811.1,668.9 811.9,630.2 812.7,674.7 813.5,665.7 814.3,693.0 815.1,663.8 815.9,707.4 816.7,698.8 817.5,721.1 818.3,701.4 819.1,739.7 819.9,718.9 820.7,753.1 821.5,729.2 822.3,770.1 823.1,746.8 823.9,778.1 824.7,763.2 825.5,786.3 826.3,773.1 827.1,797.7 827.9,782.4 828.7,811.3 829.5,791.7 830.3,816.4 831.1,793.1 831.9,819.9 832.7,812.2 833.5,828.0 834.3,808.1 835.1,843.5 835.9,818.2 836.7,856.1 837.5,833.8 838.3,864.3 839.1,842.5 839.9,867.9 840.7,846.0 841.5,884.2 842.3,860.7 843.1,885.1 843.9,872.0 844.7,891.0 845.5,868.6 846.3,906.6 847.1,876.0 847.9,912.7 848.7,880.9 849.5,914.8 850.3,892.4 851.1,924.1 851.9,910.7 852.7,933.7 853.5,914.9 854.3,944.9 855.1,923.8 855.9,946.9 856.7,933.8 857.5,969.9 858.3,942.0 859.1,974.1 859.9,951.4 860.7,979.3 861.5,951.2 862.3,986.9 863.1,966.0 863.9,993.0 864.7,963.1 865.5,996.5 866.3,970.8 867.1,1003.5 867.9,976.7 868.7,1012.4 869.5,995.1 870.3,1009.9 871.1,989.4 871.9,1025.2 872.7,1002.6 873.5,1025.3 874.3,1015.2 875.1,1033.2 875.9,1018.0 876.7,1045.5 877.5,1022.7 878.3,1043.1 879.1,1021.6 879.9,1048.2 880.7,1037.8 881.5,1053.5 882.3,1033.3 883.1,1056.2 883.9,1045.4 884.7,1067.5 885.5,1049.0 886.3,1070.7 887.1,1045.3 887.9,1074.8 888.7,1057.7 889.5,1072.1 890.3,1056.9 891.1,1084.3 891.9,1058.3 892.7,1083.6 893.5,1061.9 894.3,1088.5 895.1,1068.0 895.9,1084.1 896.7,1068.3 897.5,1088.9 898.3,1075.5 899.1,1092.3 899.9,1080.4 900.7,1090.7 901.5,1080.9 902.3,1097.9 903.1,1079.3 903.9,1103.2 904.7,1081.2 905.5,1105.3 906.3,1085.1 907.1,1106.0 907.9,1087.9 908.7,1103.0 909.5,1094.6 910.3,1110.8 911.1,1095.8 911.9,1113.3 912.7,1096.0 913.5,1119.5 914.3,1094.0 915.1,1114.9 915.9,1103.6 916.7,1115.6 917.5,1103.9 918.3,1118.3 919.1,1102.9 919.9,1118.9 920.7,1106.9 921.5,1124.1 922.3,1105.0 923.1,1122.3 923.9,1113.5 924.7,1124.7 925.5,1114.4 926.3,1135.1 927.1,1117.4 927.9,1128.6 928.7,1118.2 929.5,1132.3 930.3,1116.8 931.1,1133.2 931.9,1122.0 932.7,1132.8 933.5,1122.9 934.3,1134.7 935.1,1122.7 935.9,1141.0 936.7,1122.2 937.5,1137.3 938.3,1128.0 939.1,1137.1 939.9,1126.0 940.7,1140.0 941.5,1125.0 942.3,1147.5 943.1,1128.8 943.9,1143.8 944.7,1127.4 945.5,1143.3 946.3,1125.7 947.1,1141.1 947.9,1131.3 948.7,1144.8 949.5,1129.2 950.3,1148.2 951.1,1126.9 951.9,1145.9 952.7,1128.8 953.5,1147.0 954.3,1133.5 955.1,1150.9 955.9,1132.5 956.7,1145.1 957.5,1133.7 958.3,1142.8 959.1,1129.0 959.9,1147.8 960.7,1129.8 961.5,1144.9 962.3,1132.2 963.1,1144.2 963.9,1130.9 964.7,1151.6 965.5,1129.8 966.3,1149.6 967.1,1133.4 967.9,1148.0 968.7,1127.8 969.5,1146.9 970.3,1134.6 971.1,1147.0 971.9,1131.7 972.7,1145.7 973.5,1133.1 974.3,1148.4 975.1,1132.3 975.9,1146.4 976.7,1135.1 977.5,1146.0 978.3,1130.7 979.1,1151.6 979.9,1135.0 980.7,1153.6 981.5,1132.7 982.3,1148.7 983.1,1138.1 983.9,1153.2 984.7,1132.6 985.5,1156.2 986.3,1140.1 987.1,1157.8 987.9,1138.9 988.7,1153.3 989.5,1138.7 990.3,1154.7 991.1,1144.3 991.9,1153.2 992.7,1142.1 993.5,1157.0 994.3,1143.2 995.1,1158.2 995.9,1142.8 996.7,1157.8 997.5,1143.9 998.3,1153.3 999.1,1142.4 999.9,1153.9 1000.7,1140.3 1001.5,1152.7 1002.3,1136.1 1003.1,1153.1 1003.9,1136.8 1004.7,1150.8 1005.5,1134.4 1006.3,1150.6 1007.1,1133.7 1007.9,1152.4 1008.7,1133.6 1009.5,1148.0 1010.3,1134.6 1011.1,1150.2 1011.9,1129.0 1012.7,1146.7 1013.5,1130.6 1014.3,1142.2 1015.1,1124.3 1015.9,1139.8 1016.7,1124.3 1017.5,1142.5 1018.3,1130.5 1019.1,1144.3 1019.9,1135.2 1020.7,1150.0 1021.5,1134.3 1022.3,1148.5 1023.1,1133.0 1023.9,1153.7 1024.7,1137.4 1025.5,1147.4 1026.3,1126.2 1027.1,1139.3 1027.9,1113.5 1028.7,1132.1 1029.5,1106.5 1030.3,1120.2 1031.1,1100.4 1031.9,1115.2 1032.7,1082.5 1033.5,1097.5 1034.3,1082.0 1035.1,1087.4 1035.9,1072.6 1036.7,1080.2 1037.5,1058.8 1038.3,1073.8 1039.1,1050.5 1039.9,1073.2 1040.7,1051.7 1041.5,1065.3 1042.3,1052.9 1043.1,1074.8 1043.9,1055.3 1044.7,1067.1 1045.5,1058.4 1046.3,1073.5 1047.1,1056.4 1047.9,1077.1 1048.7,1062.6 1049.5,1083.5 1050.3,1074.3 1051.1,1093.4 1051.9,1084.4 1052.7,1101.3 1053.5,1088.2 1054.3,1111.3 1055.1,1098.8 1055.9,1116.7 1056.7,1100.3 1057.5,1120.2 1058.3,1109.6 1059.1,1127.3 1059.9,1112.7 1060.7,1134.7 1061.5,1115.1 1062.3,1135.8 1063.1,1118.4 1063.9,1139.7 1064.7,1124.6 1065.5,1140.8 1066.3,1125.7 1067.1,1143.0 1067.9,1128.6 1068.7,1146.1 1069.5,1133.2 1070.3,1148.8 1071.1,1136.6 1071.9,1148.7 1072.7,1134.5 1073.5,1147.0 1074.3,1133.8 1075.1,1150.3 1075.9,1137.0 1076.7,1147.8 1077.5,1137.5 1078.3,1150.0 1079.1,1137.5 1079.9,1147.5 1080.7,1135.1 1081.5,1149.1 1082.3,1138.0 1083.1,1152.6 1083.9,1136.7 1084.7,1155.0 1085.5,1136.8 1086.3,1150.3 1087.1,1129.8 1087.9,1148.4 1088.7,1135.2 1089.5,1150.3 1090.3,1134.3 1091.1,1154.5 1091.9,1136.6 1092.7,1146.9 1093.5,1136.7 1094.3,1148.6 1095.1,1134.3 1095.9,1149.2 1096.7,1129.8 1097.5,1147.0 1098.3,1134.4 1099.1,1147.0 1099.9,1134.9 1100.7,1150.9 1101.5,1134.1 1102.3,1147.2 1103.1,1135.8 1103.9,1152.5 1104.7,1137.5 1105.5,1150.6 1106.3,1135.0 1107.1,1154.7 1107.9,1135.1 1108.7,1146.5 1109.5,1133.8 1110.3,1145.5 1111.1,1131.6 1111.9,1150.8 1112.7,1134.8 1113.5,1148.8 1114.3,1133.5 1115.1,1151.7 1115.9,1128.9 1116.7,1146.8 1117.5,1134.0 1118.3,1150.0 1119.1,1127.2 1119.9,1147.3 1120.7,1136.4 1121.5,1148.7 1122.3,1133.5 1123.1,1144.9 1123.9,1131.8 1124.7,1147.0 1125.5,1133.9 1126.3,1145.7 1127.1,1132.3 1127.9,1145.4 1128.7,1133.1 1129.5,1150.2 1130.3,1132.4 1131.1,1145.3 1131.9,1132.1 1132.7,1149.9 1133.5,1129.7 1134.3,1148.2 1135.1,1129.4 1135.9,1148.8 1136.7,1130.9 1137.5,1146.5 1138.3,1134.6 1139.1,1148.6 1139.9,1131.3 1140.7,1150.2 1141.5,1133.4 1142.3,1149.6 1143.1,1134.1 1143.9,1150.1 1144.7,1128.4 1145.5,1143.9 1146.3,1133.4 1147.1,1150.5 1147.9,1128.9 1148.7,1148.2 1149.5,1134.7 1150.3,1143.6 1151.1,1133.9 1151.9,1150.1 1152.7,1130.1 1153.5,1152.2 1154.3,1128.5 1155.1,1150.6 1155.9,1133.6 1156.7,1149.6 1157.5,1133.8 1158.3,1145.8 1159.1,1135.4 1159.9,1144.6 1160.7,1131.8 1161.5,1143.7 1162.3,1131.9 1163.1,1144.7 1163.9,1130.5 1164.7,1144.4 1165.5,1134.2 1166.3,1145.4 1167.1,1127.4 1167.9,1149.1 1168.7,1130.4 1169.5,1148.6 1170.3,1130.9 1171.1,1147.3 1171.9,1133.2 1172.7,1144.7 1173.5,1129.6 1174.3,1151.4 1175.1,1131.1 1175.9,1143.9 1176.7,1127.4 1177.5,1152.9 1178.3,1133.1 1179.1,1148.5 1179.9,1133.1 1180.7,1148.1 1181.5,1134.6 1182.3,1146.0 1183.1,1132.6 1183.9,1146.9 1184.7,1133.8 1185.5,1148.1 1186.3,1129.3 1187.1,1148.9 1187.9,1135.1 1188.7,1146.6 1189.5,1132.9 1190.3,1147.2 1191.1,1134.7 1191.9,1148.2 1192.7,1132.3 1193.5,1149.7 1194.3,1135.1 1195.1,1146.0 1195.9,1131.8 1196.7,1148.8 1197.5,1129.8 1198.3,1144.2 1199.1,1132.9 1199.9,1148.0 1200.7,1132.1 1201.5,1144.7 1202.3,1128.5 1203.1,1151.1 1203.9,1132.4 1204.7,1146.5 1205.5,1128.3 1206.3,1144.2 1207.1,1128.4 1207.9,1148.7 1208.7,1129.5 1209.5,1147.1 1210.3,1129.5 1211.1,1145.8 1211.9,1129.8 1212.7,1142.9 1213.5,1129.5 1214.3,1145.8 1215.1,1129.4 1215.9,1145.2 1216.7,1129.0 1217.5,1145.5 1218.3,1126.4 1219.1,1139.7 1219.9,1125.3 1220.7,1140.3 1221.5,1129.4 1222.3,1138.3 1223.1,1126.7 1223.9,1145.4 1224.7,1125.3 1225.5,1136.3 1226.3,1120.5 1227.1,1135.9 1227.9,1117.8 1228.7,1133.0 1229.5,1117.1 1230.3,1136.7 1231.1,1113.6 1231.9,1131.7 1232.7,1112.5 1233.5,1125.3 1234.3,1109.6 1235.1,1124.8 1235.9,1106.9 1236.7,1127.3 1237.5,1108.3 1238.3,1115.8 1239.1,1099.8 1239.9,1119.8 1240.7,1095.2 1241.5,1112.5 1242.3,1092.7 1243.1,1106.5 1243.9,1096.0 1244.7,1108.2 1245.5,1089.4 1246.3,1107.6 1247.1,1081.7 1247.9,1102.4 1248.7,1081.2 1249.5,1099.6 1250.3,1084.7 1251.1,1101.0 1251.9,1078.7 1252.7,1096.6 1253.5,1080.4 1254.3,1097.7 1255.1,1082.0 1255.9,1095.7 1256.7,1075.9 1257.5,1097.7 1258.3,1080.8 1259.1,1096.5 1259.9,1078.1 1260.7,1098.8 1261.5,1078.0 1262.3,1094.1 1263.1,1072.7 1263.9,1091.5 1264.7,1080.6 1265.5,1096.8 1266.3,1077.7 1267.1,1089.4 1267.9,1075.7 1268.7,1089.9 1269.5,1074.8 1270.3,1093.1 1271.1,1074.1 1271.9,1085.8 1272.7,1073.6 1273.5,1091.6 1274.3,1070.5 1275.1,1092.4 1275.9,1066.1 1276.7,1089.0 1277.5,1067.1 1278.3,1086.6 1279.1,1067.8 1279.9,1081.2 1280.7,1063.6 1281.5,1087.9 1282.3,1064.6 1283.1,1076.5 1283.9,1062.9 1284.7,1084.8 1285.5,1056.4 1286.3,1072.4 1287.1,1058.6 1287.9,1076.2 1288.7,1052.5 1289.5,1073.4 1290.3,1052.4 1291.1,1069.3 1291.9,1050.6 1292.7,1073.3 1293.5,1045.0 1294.3,1066.8 1295.1,1054.8 1295.9,1069.2 1296.7,1048.2 1297.5,1062.4 1298.3,1048.2 1299.1,1070.0 1299.9,1051.8 1300.7,1062.0 1301.5,1051.0 1302.3,1064.3 1303.1,1047.8 1303.9,1068.3 1304.7,1051.0 1305.5,1062.8 1306.3,1044.0 1307.1,1071.5 1307.9,1051.7 1308.7,1067.4 1309.5,1055.9 1310.3,1076.8 1311.1,1052.6 1311.9,1073.5 1312.7,1049.6 1313.5,1075.9 1314.3,1056.9 1315.1,1072.5 1315.9,1058.7 1316.7,1079.6 1317.5,1065.0 1318.3,1080.6 1319.1,1067.5 1319.9,1087.2 1320.7,1070.0 1321.5,1084.0 1322.3,1068.5 1323.1,1092.0 1323.9,1068.5 1324.7,1097.6 1325.5,1077.9 1326.3,1095.4 1327.1,1075.3 1327.9,1099.2 1328.7,1079.4 1329.5,1099.4 1330.3,1084.0 1331.1,1100.4 1331.9,1091.8 1332.7,1110.9 1333.5,1094.4 1334.3,1110.4 1335.1,1092.2 1335.9,1114.5 1336.7,1093.3 1337.5,1117.5 1338.3,1097.4 1339.1,1121.9 1339.9,1106.1 1340.7,1118.0 1341.5,1107.7 1342.3,1120.4 1343.1,1106.4 1343.9,1127.8 1344.7,1113.3 1345.5,1124.2 1346.3,1114.0 1347.1,1130.7 1347.9,1112.7 1348.7,1130.9 1349.5,1115.5 1350.3,1135.9 1351.1,1115.5 1351.9,1131.7 1352.7,1118.5 1353.5,1138.2 1354.3,1118.8 1355.1,1137.2 1355.9,1125.8 1356.7,1139.1 1357.5,1125.8 1358.3,1139.9 1359.1,1124.1 1359.9,1142.9 1360.7,1126.1 1361.5,1143.8 1362.3,1130.7 1363.1,1140.3 1363.9,1129.6 1364.7,1146.4 1365.5,1128.4 1366.3,1146.5 1367.1,1129.0 1367.9,1146.8 1368.7,1125.4 1369.5,1146.5 1370.3,1127.8 1371.1,1148.3 1371.9,1128.5 1372.7,1146.8 1373.5,1132.5 1374.3,1140.8 1375.1,1125.9 1375.9,1141.3 1376.7,1129.2 1377.5,1139.6 1378.3,1125.7 1379.1,1137.7 1379.9,1123.3 1380.7,1138.3 1381.5,1122.5 1382.3,1141.5 1383.1,1121.7 1383.9,1136.9 1384.7,1121.0 1385.5,1138.9 1386.3,1119.2 1387.1,1133.4 1387.9,1114.2 1388.7,1136.7 1389.5,1117.3 1390.3,1129.5 1391.1,1116.4 1391.9,1131.9 1392.7,1116.8 1393.5,1132.5 1394.3,1107.7 1395.1,1125.5 1395.9,1113.3 1396.7,1125.2 1397.5,1107.1 1398.3,1125.4 1399.1,1110.4 1399.9,1121.1 1400.7,1108.0 1401.5,1124.6 1402.3,1099.6 1403.1,1113.5 1403.9,1099.4 1404.7,1111.8 1405.5,1098.0 1406.3,1112.7 1407.1,1089.7 1407.9,1113.1 1408.7,1090.1 1409.5,1103.6 1410.3,1081.0 1411.1,1102.8 1411.9,1086.9 1412.7,1100.4 1413.5,1079.0 1414.3,1092.9 1415.1,1076.9 1415.9,1090.2 1416.7,1072.2 1417.5,1087.5 1418.3,1069.4 1419.1,1087.2 1419.9,1066.9 1420.7,1088.7 1421.5,1061.3 1422.3,1078.1 1423.1,1058.1 1423.9,1075.4 1424.7,1057.0 1425.5,1073.6 1426.3,1054.0 1427.1,1070.2 1427.9,1049.2 1428.7,1066.4 1429.5,1043.4 1430.3,1064.8 1431.1,1034.3 1431.9,1056.6 1432.7,1034.6 1433.5,1055.6 1434.3,1037.4 1435.1,1055.2 1435.9,1036.9 1436.7,1055.5 1437.5,1030.4 1438.3,1051.0 1439.1,1032.8 1439.9,1050.8 1440.7,1025.6 1441.5,1049.2 1442.3,1024.3 1443.1,1041.7 1443.9,1024.8 1444.7,1047.7 1445.5,1026.3 1446.3,1048.5 1447.1,1024.9 1447.9,1040.5 1448.7,1028.7 1449.5,1046.1 1450.3,1020.8 1451.1,1042.7 1451.9,1021.0 1452.7,1042.6 1453.5,1023.2 1454.3,1037.3 1455.1,1024.6 1455.9,1040.6 1456.7,1021.9 1457.5,1039.0 1458.3,1026.5 1459.1,1040.0 1459.9,1026.8 1460.7,1046.3 1461.5,1027.7 1462.3,1042.7 1463.1,1018.8 1463.9,1042.8 1464.7,1028.1 1465.5,1046.9 1466.3,1022.6 1467.1,1051.8 1467.9,1030.5 1468.7,1046.1 1469.5,1028.2 1470.3,1047.8 1471.1,1032.0 1471.9,1052.2 1472.7,1037.9 1473.5,1053.0 1474.3,1037.8 1475.1,1054.8 1475.9,1041.8 1476.7,1057.2 1477.5,1035.1 1478.3,1061.5 1479.1,1046.5 1479.9,1058.3 1480.7,1043.4 1481.5,1060.8 1482.3,1047.7 1483.1,1067.5 1483.9,1047.8 1484.7,1067.4 1485.5,1051.6 1486.3,1070.0 1487.1,1051.9 1487.9,1077.4 1488.7,1064.0 1489.5,1080.0 1490.3,1063.1 1491.1,1079.5 1491.9,1065.4 1492.7,1090.2 1493.5,1067.0 1494.3,1084.4 1495.1,1076.8 1495.9,1091.9 1496.7,1078.2 1497.5,1092.9 1498.3,1072.9 1499.1,1095.1 1499.9,1085.3 1500.7,1096.3 1501.5,1084.3 1502.3,1103.7 1503.1,1085.6 1503.9,1104.1 1504.7,1092.2 1505.5,1104.3 1506.3,1095.0 1507.1,1107.5 1507.9,1091.6 1508.7,1111.8 1509.5,1101.5 1510.3,1116.2 1511.1,1098.0 1511.9,1114.8 1512.7,1101.3 1513.5,1123.9 1514.3,1109.1 1515.1,1125.8 1515.9,1110.6 1516.7,1127.3 1517.5,1111.9 1518.3,1130.2 1519.1,1115.9 1519.9,1128.6 1520.7,1115.8 1521.5,1132.8 1522.3,1120.5 1523.1,1137.1 1523.9,1121.2 1524.7,1140.7 1525.5,1125.3 1526.3,1140.4 1527.1,1129.3 1527.9,1139.1 1528.7,1125.1 1529.5,1142.0 1530.3,1130.9 1531.1,1143.5 1531.9,1129.7 1532.7,1146.4 1533.5,1134.8 1534.3,1150.9 1535.1,1133.9 1535.9,1151.6 1536.7,1134.8 1537.5,1152.9 1538.3,1140.0 1539.1,1155.6 1539.9,1135.2 1540.7,1156.6 1541.5,1142.1 1542.3,1154.6 1543.1,1143.2 1543.9,1156.2 1544.7,1142.2 1545.5,1161.6 1546.3,1144.0 1547.1,1157.5 1547.9,1141.6 1548.7,1157.7 1549.5,1146.3 1550.3,1158.5 1551.1,1149.4 1551.9,1160.2 1552.7,1147.8 1553.5,1165.4 1554.3,1151.9 1555.1,1166.0 1555.9,1153.4 1556.7,1165.8 1557.5,1153.7 1558.3,1164.9 1559.1,1152.2 1559.9,1164.9 1560.7,1155.0 1561.5,1166.7 1562.3,1152.2 1563.1,1169.3 1563.9,1155.3 1564.7,1165.8 1565.5,1157.1 1566.3,1165.9 1567.1,1157.7 1567.9,1166.5 1568.7,1154.4 1569.5,1166.1 1570.3,1155.1 1571.1,1167.4 1571.9,1157.6 1572.7,1168.6 1573.5,1156.7 1574.3,1168.6 1575.1,1158.6 1575.9,1169.3 1576.7,1154.5 1577.5,1166.4 1578.3,1158.8 1579.1,1169.4 1579.9,1157.6 1580.7,1167.7 1581.5,1154.1 1582.3,1167.9 1583.1,1154.4 1583.9,1169.6 1584.7,1159.1 1585.5,1167.7 1586.3,1158.9 1587.1,1169.1 1587.9,1154.5 1588.7,1166.6 1589.5,1153.6 1590.3,1166.5 1591.1,1157.9 1591.9,1167.2 1592.7,1154.2 1593.5,1172.6 1594.3,1154.4 1595.1,1169.3 1595.9,1155.0 1596.7,1170.0 1597.5,1157.8 1598.3,1169.7 1599.1,1157.8 1599.9,1168.7 1600.7,1155.1 1601.5,1167.4 1602.3,1158.4 1603.1,1170.7 1603.9,1156.9 1604.7,1167.2 1605.5,1157.7 1606.3,1167.7 1607.1,1153.0 1607.9,1168.8 1608.7,1154.0 1609.5,1168.9 1610.3,1154.8 1611.1,1171.3 1611.9,1156.9 1612.7,1170.8 1613.5,1158.5 1614.3,1167.6 1615.1,1154.0 1615.9,1167.5 1616.7,1158.1 1617.5,1170.6 1618.3,1156.8 1619.1,1172.3 1619.9,1160.0 1620.7,1174.9 1621.5,1158.8 1622.3,1171.5 1623.1,1155.0 1623.9,1172.9 1624.7,1160.4 1625.5,1169.0 1626.3,1158.0 1627.1,1172.5 1627.9,1158.9 1628.7,1170.1 1629.5,1161.7 1630.3,1172.8 1631.1,1159.3 1631.9,1173.1 1632.7,1160.2 1633.5,1173.3 1634.3,1162.6 1635.1,1172.5 1635.9,1161.9 1636.7,1174.1 1637.5,1161.2 1638.3,1174.2 1639.1,1160.6 1639.9,1175.3 1640.7,1160.0 1641.5,1171.3 1642.3,1161.2 1643.1,1173.1 1643.9,1164.1 1644.7,1173.8 1645.5,1160.8 1646.3,1176.9 1647.1,1164.5 1647.9,1172.9 1648.7,1161.9 1649.5,1176.7 1650.3,1165.1 1651.1,1172.7 1651.9,1162.3 1652.7,1175.4 1653.5,1162.0 1654.3,1173.6 1655.1,1160.3 1655.9,1176.7 1656.7,1164.3 1657.5,1174.9 1658.3,1166.2 1659.1,1176.9 1659.9,1164.3 1660.7,1175.1 1661.5,1163.5 1662.3,1177.4 1663.1,1162.6 1663.9,1175.1 1664.7,1163.9 1665.5,1175.4 1666.3,1162.9 1667.1,1177.4 1667.9,1163.8 1668.7,1179.3 1669.5,1164.5 1670.3,1176.4 1671.1,1166.1 1671.9,1177.0 1672.7,1165.5 1673.5,1176.3 1674.3,1166.9 1675.1,1175.5 1675.9,1163.9 1676.7,1176.6 1677.5,1164.2 1678.3,1174.8 1679.1,1163.7 1679.9,1176.7 1680.7,1163.9 1681.5,1175.3 1682.3,1165.9 1683.1,1176.1 1683.9,1166.4 1684.7,1177.7 1685.5,1164.8 1686.3,1174.6 1687.1,1164.3 1687.9,1173.7 1688.7,1162.2 1689.5,1177.8 1690.3,1162.3 1691.1,1179.3 1691.9,1161.7 1692.7,1174.5 1693.5,1163.8 1694.3,1173.6 1695.1,1163.9 1695.9,1177.1 1696.7,1162.7 1697.5,1175.2 1698.3,1163.2 1699.1,1175.5 1699.9,1162.7 1700.7,1174.5 1701.5,1163.0 1702.3,1172.7 1703.1,1163.2 1703.9,1175.3 1704.7,1164.2 1705.5,1173.3 1706.3,1161.2 1707.1,1172.5 1707.9,1164.0 1708.7,1175.6 1709.5,1164.2 1710.3,1173.0 1711.1,1160.2 1711.9,1173.3 1712.7,1160.4 1713.5,1174.7 1714.3,1164.0 1715.1,1171.8 1715.9,1159.4 1716.7,1172.0 1717.5,1161.5 1718.3,1174.7 1719.1,1162.6 1719.9,1174.5 1720.7,1159.6 1721.5,1172.5 1722.3,1162.4 1723.1,1172.1 1723.9,1158.0 1724.7,1170.6 1725.5,1161.3 1726.3,1168.9 1727.1,1160.8 1727.9,1169.9 1728.7,1156.8 1729.5,1167.8 1730.3,1158.5 1731.1,1169.1 1731.9,1158.1 1732.7,1169.4 1733.5,1157.1 1734.3,1167.5 1735.1,1155.5 1735.9,1168.7 1736.7,1157.3 1737.5,1171.4 1738.3,1155.2 1739.1,1166.3 1739.9,1153.6 1740.7,1168.1 1741.5,1156.4 1742.3,1166.0 1743.1,1157.4 1743.9,1165.7 1744.7,1155.9 1745.5,1165.9 1746.3,1152.1 1747.1,1166.8 1747.9,1155.8 1748.7,1165.4 1749.5,1154.2 1750.3,1163.6 1751.1,1153.7 1751.9,1165.4 1752.7,1151.1 1753.5,1164.7 1754.3,1151.9 1755.1,1165.7 1755.9,1154.2 1756.7,1164.8 1757.5,1152.5 1758.3,1162.5 1759.1,1154.4 1759.9,1166.4 1760.7,1153.8 1761.5,1165.6 1762.3,1152.1 1763.1,1161.3 1763.9,1148.8 1764.7,1164.0 1765.5,1147.3 1766.3,1164.7 1767.1,1149.6 1767.9,1162.2 1768.7,1149.2 1769.5,1163.6 1770.3,1151.8 1771.1,1163.3 1771.9,1146.3 1772.7,1162.9 1773.5,1148.0 1774.3,1164.2 1775.1,1147.8 1775.9,1161.3 1776.7,1148.9 1777.5,1162.7 1778.3,1148.4 1779.1,1159.0 1779.9,1144.4 1780.7,1159.9 1781.5,1147.2 1782.3,1159.7 1783.1,1149.8 1783.9,1162.9 1784.7,1150.9 1785.5,1160.1 1786.3,1150.4 1787.1,1159.1 1787.9,1146.5 1788.7,1160.7 1789.5,1145.9 1790.3,1160.9 1791.1,1152.0 1791.9,1163.8 1792.7,1151.8 1793.5,1161.1 1794.3,1148.9 1795.1,1161.6 1795.9,1150.2 1796.7,1161.6 1797.5,1150.0 1798.3,1161.7 1799.1,1150.7 1799.9,1160.2 1800.7,1153.1 1801.5,1162.8 1802.3,1149.0 1803.1,1165.5 1803.9,1149.2 1804.7,1163.1 1805.5,1150.1 1806.3,1164.0 1807.1,1149.8 1807.9,1165.8 1808.7,1151.9 1809.5,1163.1 1810.3,1149.8 1811.1,1162.0 1811.9,1153.5 1812.7,1165.7 1813.5,1154.1 1814.3,1165.9 1815.1,1149.6 1815.9,1162.3 1816.7,1150.7 1817.5,1163.1 1818.3,1153.4 1819.1,1167.0 1819.9,1150.5 1820.7,1166.1 1821.5,1153.2 1822.3,1167.6 1823.1,1152.9 1823.9,1168.1 1824.7,1152.7 1825.5,1164.0 1826.3,1153.2 1827.1,1168.9 1827.9,1153.7 1828.7,1168.8 1829.5,1159.1 1830.3,1171.2 1831.1,1158.4 1831.9,1169.0 1832.7,1160.8 1833.5,1170.4 1834.3,1159.3 1835.1,1171.6 1835.9,1160.9 1836.7,1173.5 1837.5,1164.3 1838.3,1177.0 1839.1,1167.9 1839.9,1179.1 1840.7,1168.4 1841.5,1185.5 1842.3,1172.5 1843.1,1185.2 1843.9,1174.6 1844.7,1185.3 1845.5,1177.3 1846.3,1191.9 1847.1,1180.0 1847.9,1188.2 1848.7,1178.3 1849.5,1193.6 1850.3,1180.9 1851.1,1193.1 1851.9,1180.9 1852.7,1193.8 1853.5,1185.8 1854.3,1194.6 1855.1,1184.2 1855.9,1195.6 1856.7,1183.2 1857.5,1194.1 1858.3,1183.9 1859.1,1196.5 1859.9,1184.8 1860.7,1196.3 1861.5,1187.0 1862.3,1196.3 1863.1,1187.2 1863.9,1196.9 1864.7,1185.9 1865.5,1198.4 1866.3,1187.5 1867.1,1196.5 1867.9,1185.7 1868.7,1197.7 1869.5,1184.4 1870.3,1196.3 1871.1,1183.9 1871.9,1195.0 1872.7,1182.7 1873.5,1196.0 1874.3,1183.1 1875.1,1192.3 1875.9,1183.1 1876.7,1192.5 1877.5,1183.7 1878.3,1192.2 1879.1,1180.7 1879.9,1192.2 1880.7,1182.2 1881.5,1192.2 1882.3,1183.1 1883.1,1192.9 1883.9,1181.9 1884.7,1194.4 1885.5,1180.9 1886.3,1194.4 1887.1,1179.7 1887.9,1192.1 1888.7,1183.2 1889.5,1190.8 1890.3,1182.7 1891.1,1194.2 1891.9,1182.5 1892.7,1192.5 1893.5,1181.6 1894.3,1191.7 1895.1,1179.6 1895.9,1190.8 1896.7,1182.1 1897.5,1190.7 1898.3,1178.6 1899.1,1191.8 1899.9,1181.5 1900.7,1190.0 1901.5,1177.6 1902.3,1190.8 1903.1,1180.0 1903.9,1191.3 1904.7,1179.1 1905.5,1193.8 1906.3,1180.3 1907.1,1191.0 1907.9,1179.4 1908.7,1190.0 1909.5,1179.6 1910.3,1193.6 1911.1,1179.7 1911.9,1190.3 1912.7,1180.7 1913.5,1194.5 1914.3,1181.7 1915.1,1193.9 1915.9,1182.9 1916.7,1192.7 1917.5,1181.3 1918.3,1194.0 1919.1,1182.2 1919.9,1191.8 1920.7,1181.1 1921.5,1191.4 1922.3,1182.9 1923.1,1193.2 1923.9,1181.3 1924.7,1193.3 1925.5,1182.5 1926.3,1194.7 1927.1,1182.3 1927.9,1196.2 1928.7,1183.5 1929.5,1194.8 1930.3,1181.2 1931.1,1193.4 1931.9,1185.0 1932.7,1193.7 1933.5,1184.1 1934.3,1193.8 1935.1,1184.0 1935.9,1196.7 1936.7,1186.4 1937.5,1194.4 1938.3,1184.7 1939.1,1193.7 1939.9,1186.4 1940.7,1198.3 1941.5,1185.5 1942.3,1197.7 1943.1,1184.9 1943.9,1197.2 1944.7,1186.0 1945.5,1195.8 1946.3,1184.0 1947.1,1196.9 1947.9,1183.9 1948.7,1199.3 1949.5,1187.5 1950.3,1197.5 1951.1,1182.4 1951.9,1195.1 1952.7,1186.6 1953.5,1197.9 1954.3,1187.0 1955.1,1198.4 1955.9,1186.8 1956.7,1196.6 1957.5,1186.7 1958.3,1198.2 1959.1,1188.5 1959.9,1198.3 1960.7,1188.7 1961.5,1201.0 1962.3,1187.4 1963.1,1197.2 1963.9,1189.7 1964.7,1197.5 1965.5,1184.4 1966.3,1199.2 1967.1,1187.6 1967.9,1200.1 1968.7,1188.8 1969.5,1200.0 1970.3,1188.6 1971.1,1198.8 1971.9,1190.3 1972.7,1199.5 1973.5,1188.5 1974.3,1198.6 1975.1,1189.0 1975.9,1198.4 1976.7,1191.2 1977.5,1201.5 1978.3,1189.0 1979.1,1202.2 1979.9,1189.8 1980.7,1200.4 1981.5,1188.9 1982.3,1205.2 1983.1,1189.5 1983.9,1203.7 1984.7,1192.5 1985.5,1204.1 1986.3,1193.4 1987.1,1202.9 1987.9,1192.9 1988.7,1200.8 1989.5,1191.7 1990.3,1201.4 1991.1,1190.8 1991.9,1202.4 1992.7,1193.0 1993.5,1200.6 1994.3,1189.6 1995.1,1203.1 1995.9,1190.8 1996.7,1205.4 1997.5,1190.3 1998.3,1205.4 1999.1,1190.3 1999.9,1203.7 2000.7,1193.6 2001.5,1204.6 2002.3,1193.7 2003.1,1203.6 2003.9,1193.1 2004.7,1206.0 2005.5,1189.8 2006.3,1201.0 2007.1,1192.7 2007.9,1204.2 2008.7,1192.1 2009.5,1201.2"/>
<polyline clip-path="url(#cu)" stroke="#9a9c9b" stroke-width="4.9" points="442.3,735.9 443.1,740.4 443.9,735.9 444.7,740.4 445.5,735.9 446.3,740.5 447.1,735.9 447.9,740.4 448.7,735.9 449.5,740.4 450.3,735.9 451.1,740.4 451.9,735.9 452.7,740.4 453.5,735.9 454.3,740.5 455.1,735.9 455.9,740.4 456.7,735.9 457.5,740.4 458.3,735.9 459.1,740.4 459.9,735.9 460.7,740.4 461.5,735.9 462.3,740.4 463.1,735.9 463.9,740.5 464.7,735.9 465.5,740.4 466.3,735.9 467.1,740.4 467.9,735.9 468.7,740.5 469.5,735.9 470.3,740.4 471.1,735.9 471.9,740.4 472.7,735.9 473.5,740.4 474.3,735.9 475.1,740.4 475.9,735.9 476.7,740.4 477.5,735.9 478.3,740.5 479.1,735.9 479.9,740.4 480.7,735.9 481.5,740.5 482.3,735.9 483.1,740.5 483.9,735.9 484.7,740.4 485.5,735.9 486.3,740.5 487.1,735.9 487.9,740.5 488.7,735.9 489.5,740.5 490.3,735.9 491.1,740.5 491.9,735.9 492.7,740.5 493.5,735.9 494.3,740.4 495.1,735.9 495.9,740.5 496.7,735.8 497.5,740.4 498.3,735.9 499.1,740.4 499.9,735.9 500.7,740.4 501.5,735.9 502.3,740.5 503.1,735.9 503.9,740.5 504.7,735.9 505.5,740.4 506.3,735.9 507.1,740.5 507.9,735.9 508.7,740.5 509.5,735.9 510.3,740.5 511.1,735.9 511.9,740.4 512.7,735.9 513.5,740.4 514.3,735.9 515.1,740.5 515.9,735.9 516.7,740.4 517.5,735.9 518.3,740.5 519.1,735.9 519.9,740.5 520.7,735.9 521.5,740.4 522.3,735.9 523.1,740.4 523.9,735.8 524.7,740.4 525.5,735.8 526.3,740.3 527.1,735.7 527.9,740.1 528.7,735.4 529.5,739.9 530.3,735.3 531.1,739.7 531.9,735.0 532.7,739.5 533.5,734.6 534.3,739.1 535.1,734.3 535.9,738.8 536.7,733.7 537.5,738.1 538.3,733.2 539.1,737.4 539.9,732.4 540.7,736.9 541.5,731.9 542.3,736.5 543.1,731.5 543.9,736.3 544.7,731.1 545.5,735.7 546.3,730.6 547.1,735.2 547.9,730.3 548.7,734.8 549.5,729.4 550.3,734.2 551.1,728.3 551.9,732.4 552.7,726.7 553.5,730.9 554.3,724.9 555.1,728.4 555.9,721.8 556.7,725.0 557.5,717.2 558.3,719.6 559.1,708.3 559.9,700.6 560.7,666.7 561.5,638.3 562.3,548.6 563.1,522.1 563.9,489.1 564.7,482.6 565.5,459.6 566.3,461.1 567.1,439.8 567.9,443.2 568.7,419.9 569.5,435.2 570.3,423.7 571.1,447.5 571.9,449.9 572.7,480.4 573.5,500.5 574.3,545.4 575.1,554.7 575.9,578.1 576.7,580.3 577.5,597.1 578.3,599.1 579.1,616.1 579.9,619.6 580.7,635.7 581.5,634.6 582.3,648.8 583.1,646.0 583.9,659.1 584.7,656.5 585.5,667.4 586.3,664.5 587.1,675.1 587.9,671.9 588.7,681.6 589.5,678.9 590.3,690.0 591.1,685.5 591.9,694.1 592.7,688.7 593.5,696.6 594.3,691.4 595.1,698.4 595.9,693.9 596.7,701.8 597.5,696.2 598.3,704.2 599.1,698.8 599.9,706.5 600.7,701.3 601.5,708.3 602.3,702.8 603.1,709.1 603.9,703.3 604.7,711.0 605.5,705.8 606.3,712.8 607.1,707.5 607.9,713.8 608.7,708.5 609.5,715.0 610.3,708.9 611.1,715.8 611.9,710.8 612.7,717.6 613.5,712.3 614.3,717.9 615.1,713.5 615.9,719.5 616.7,713.9 617.5,720.3 618.3,715.1 619.1,721.8 619.9,716.9 620.7,722.7 621.5,717.0 622.3,724.0 623.1,718.6 623.9,724.6 624.7,719.7 625.5,725.8 626.3,720.0 627.1,726.0 627.9,720.8 628.7,726.6 629.5,720.7 630.3,726.4 631.1,720.9 631.9,726.9 632.7,721.6 633.5,726.9 634.3,722.2 635.1,727.3 635.9,722.2 636.7,727.9 637.5,721.9 638.3,727.7 639.1,723.1 639.9,728.4 640.7,722.9 641.5,729.2 642.3,723.8 643.1,729.6 643.9,723.9 644.7,729.8 645.5,724.5 646.3,730.1 647.1,725.2 647.9,730.5 648.7,725.4 649.5,730.7 650.3,724.9 651.1,730.5 651.9,724.5 652.7,729.3 653.5,723.3 654.3,728.8 655.1,722.2 655.9,727.6 656.7,721.5 657.5,726.6 658.3,721.0 659.1,725.7 659.9,719.7 660.7,724.9 661.5,718.8 662.3,724.1 663.1,718.1 663.9,723.7 664.7,717.5 665.5,722.5 666.3,716.7 667.1,722.2 667.9,715.7 668.7,720.9 669.5,715.3 670.3,720.5 671.1,714.3 671.9,719.3 672.7,713.9 673.5,718.9 674.3,712.8 675.1,718.4 675.9,711.8 676.7,718.0 677.5,710.8 678.3,716.8 679.1,709.7 679.9,714.4 680.7,707.1 681.5,711.2 682.3,703.8 683.1,707.7 683.9,699.2 684.7,702.1 685.5,693.7 686.3,697.1 687.1,686.6 687.9,688.2 688.7,674.5 689.5,671.1 690.3,646.4 691.1,640.6 691.9,616.0 692.7,608.8 693.5,581.4 694.3,575.0 695.1,549.4 695.9,540.8 696.7,515.5 697.5,510.5 698.3,483.9 699.1,472.2 699.9,438.8 700.7,430.4 701.5,394.9 702.3,399.2 703.1,358.0 703.9,339.5 704.7,282.9 705.5,281.2 706.3,249.7 707.1,269.0 707.9,219.6 708.7,221.5 709.5,182.2 710.3,211.9 711.1,148.0 711.9,180.7 712.7,131.9 713.5,156.5 714.3,115.5 715.1,138.0 715.9,97.3 716.7,140.8 717.5,88.8 718.3,136.8 719.1,84.8 719.9,120.1 720.7,102.5 721.5,122.8 722.3,97.8 723.1,137.6 723.9,103.9 724.7,141.5 725.5,106.6 726.3,142.1 727.1,121.4 727.9,160.1 728.7,153.7 729.5,197.0 730.3,171.4 731.1,214.1 731.9,202.1 732.7,244.1 733.5,227.8 734.3,271.3 735.1,255.7 735.9,284.8 736.7,277.9 737.5,315.6 738.3,308.9 739.1,360.4 739.9,348.4 740.7,380.2 741.5,375.2 742.3,402.6 743.1,401.0 743.9,424.6 744.7,423.2 745.5,443.2 746.3,436.4 747.1,462.0 747.9,459.4 748.7,482.0 749.5,473.4 750.3,496.4 751.1,493.4 751.9,514.5 752.7,506.9 753.5,528.3 754.3,524.6 755.1,540.0 755.9,535.6 756.7,554.7 757.5,546.6 758.3,566.7 759.1,557.4 759.9,569.9 760.7,563.1 761.5,578.8 762.3,570.9 763.1,584.8 763.9,577.5 764.7,589.0 765.5,582.4 766.3,596.9 767.1,587.0 767.9,600.8 768.7,591.2 769.5,603.4 770.3,597.1 771.1,609.2 771.9,601.2 772.7,612.7 773.5,605.9 774.3,615.3 775.1,608.3 775.9,619.7 776.7,610.7 777.5,621.0 778.3,614.7 779.1,625.4 779.9,619.0 780.7,628.9 781.5,621.0 782.3,632.2 783.1,625.0 783.9,634.1 784.7,627.8 785.5,637.5 786.3,630.3 787.1,640.2 787.9,634.0 788.7,643.1 789.5,636.8 790.3,646.7 791.1,639.3 791.9,648.4 792.7,642.4 793.5,650.5 794.3,643.5 795.1,653.2 795.9,646.4 796.7,656.3 797.5,648.6 798.3,658.0 799.1,651.4 799.9,661.7 800.7,654.7 801.5,664.0 802.3,656.9 803.1,665.9 803.9,659.5 804.7,667.7 805.5,663.0 806.3,670.9 807.1,662.9 807.9,673.5 808.7,667.0 809.5,675.4 810.3,667.9 811.1,677.6 811.9,669.5 812.7,678.2 813.5,673.3 814.3,680.2 815.1,673.1 815.9,681.7 816.7,676.8 817.5,683.2 818.3,677.1 819.1,685.2 819.9,679.0 820.7,686.6 821.5,680.1 822.3,688.5 823.1,682.0 823.9,689.3 824.7,683.8 825.5,690.2 826.3,684.8 827.1,691.4 827.9,685.8 828.7,692.9 829.5,686.8 830.3,693.4 831.1,687.0 831.9,693.8 832.7,689.0 833.5,694.7 834.3,688.6 835.1,696.4 835.9,689.7 836.7,697.7 837.5,691.4 838.3,698.6 839.1,692.3 839.9,699.0 840.7,692.7 841.5,700.7 842.3,694.3 843.1,700.8 843.9,695.5 844.7,701.5 845.5,695.1 846.3,703.1 847.1,695.9 847.9,703.8 848.7,696.5 849.5,704.0 850.3,697.7 851.1,705.0 851.9,699.7 852.7,706.1 853.5,700.1 854.3,707.3 855.1,701.1 855.9,707.5 856.7,702.1 857.5,710.0 858.3,703.0 859.1,710.4 859.9,704.0 860.7,711.0 861.5,704.0 862.3,711.8 863.1,705.6 863.9,712.5 864.7,705.3 865.5,712.8 866.3,706.1 867.1,713.6 867.9,706.8 868.7,714.5 869.5,708.7 870.3,714.3 871.1,708.1 871.9,715.9 872.7,709.6 873.5,715.9 874.3,710.9 875.1,716.8 875.9,711.2 876.7,718.1 877.5,711.7 878.3,717.8 879.1,711.6 879.9,718.4 880.7,713.3 881.5,719.0 882.3,712.9 883.1,719.2 883.9,714.1 884.7,720.5 885.5,714.5 886.3,720.8 887.1,714.1 887.9,721.3 888.7,715.5 889.5,721.0 890.3,715.4 891.1,722.3 891.9,715.5 892.7,722.2 893.5,715.9 894.3,722.7 895.1,716.6 895.9,722.3 896.7,716.6 897.5,722.8 898.3,717.4 899.1,723.1 899.9,717.9 900.7,723.0 901.5,718.0 902.3,723.7 903.1,717.8 903.9,724.3 904.7,718.0 905.5,724.5 906.3,718.4 907.1,724.6 907.9,718.7 908.7,724.3 909.5,719.4 910.3,725.1 911.1,719.6 911.9,725.4 912.7,719.6 913.5,726.1 914.3,719.4 915.1,725.6 915.9,720.4 916.7,725.6 917.5,720.5 918.3,725.9 919.1,720.3 919.9,726.0 920.7,720.8 921.5,726.6 922.3,720.6 923.1,726.4 923.9,721.5 924.7,726.6 925.5,721.6 926.3,727.7 927.1,721.9 927.9,727.0 928.7,722.0 929.5,727.4 930.3,721.8 931.1,727.5 931.9,722.4 932.7,727.5 933.5,722.5 934.3,727.7 935.1,722.5 935.9,728.4 936.7,722.4 937.5,728.0 938.3,723.0 939.1,728.0 939.9,722.8 940.7,728.3 941.5,722.7 942.3,729.1 943.1,723.1 943.9,728.7 944.7,723.0 945.5,728.6 946.3,722.8 947.1,728.4 947.9,723.4 948.7,728.8 949.5,723.2 950.3,729.2 951.1,722.9 951.9,728.9 952.7,723.1 953.5,729.0 954.3,723.6 955.1,729.4 955.9,723.5 956.7,728.8 957.5,723.7 958.3,728.6 959.1,723.1 959.9,729.1 960.7,723.2 961.5,728.8 962.3,723.5 963.1,728.7 963.9,723.4 964.7,729.5 965.5,723.2 966.3,729.3 967.1,723.6 967.9,729.1 968.7,723.0 969.5,729.0 970.3,723.8 971.1,729.0 971.9,723.4 972.7,728.9 973.5,723.6 974.3,729.2 975.1,723.5 975.9,729.0 976.7,723.8 977.5,728.9 978.3,723.3 979.1,729.5 979.9,723.8 980.7,729.7 981.5,723.6 982.3,729.2 983.1,724.1 983.9,729.7 984.7,723.5 985.5,730.0 986.3,724.3 987.1,730.2 987.9,724.2 988.7,729.7 989.5,724.2 990.3,729.9 991.1,724.8 991.9,729.7 992.7,724.6 993.5,730.1 994.3,724.7 995.1,730.2 995.9,724.6 996.7,730.2 997.5,724.8 998.3,729.7 999.1,724.6 999.9,729.8 1000.7,724.4 1001.5,729.6 1002.3,723.9 1003.1,729.7 1003.9,724.0 1004.7,729.4 1005.5,723.7 1006.3,729.4 1007.1,723.7 1007.9,729.6 1008.7,723.6 1009.5,729.1 1010.3,723.7 1011.1,729.4 1011.9,723.1 1012.7,729.0 1013.5,723.3 1014.3,728.5 1015.1,722.6 1015.9,728.2 1016.7,722.6 1017.5,728.5 1018.3,723.3 1019.1,728.7 1019.9,723.8 1020.7,729.4 1021.5,723.7 1022.3,729.2 1023.1,723.6 1023.9,729.7 1024.7,724.1 1025.5,729.1 1026.3,722.8 1027.1,728.2 1027.9,721.5 1028.7,727.4 1029.5,720.7 1030.3,726.1 1031.1,720.1 1031.9,725.6 1032.7,718.1 1033.5,723.7 1034.3,718.1 1035.1,722.6 1035.9,717.1 1036.7,721.8 1037.5,715.6 1038.3,721.1 1039.1,714.7 1039.9,721.1 1040.7,714.8 1041.5,720.2 1042.3,715.0 1043.1,721.3 1043.9,715.2 1044.7,720.4 1045.5,715.6 1046.3,721.1 1047.1,715.3 1047.9,721.5 1048.7,716.0 1049.5,722.2 1050.3,717.3 1051.1,723.3 1051.9,718.3 1052.7,724.1 1053.5,718.8 1054.3,725.2 1055.1,719.9 1055.9,725.8 1056.7,720.1 1057.5,726.1 1058.3,721.1 1059.1,726.9 1059.9,721.4 1060.7,727.7 1061.5,721.7 1062.3,727.8 1063.1,722.0 1063.9,728.2 1064.7,722.7 1065.5,728.4 1066.3,722.8 1067.1,728.6 1067.9,723.1 1068.7,728.9 1069.5,723.6 1070.3,729.2 1071.1,724.0 1071.9,729.2 1072.7,723.7 1073.5,729.0 1074.3,723.7 1075.1,729.4 1075.9,724.0 1076.7,729.1 1077.5,724.1 1078.3,729.3 1079.1,724.1 1079.9,729.1 1080.7,723.8 1081.5,729.3 1082.3,724.1 1083.1,729.6 1083.9,724.0 1084.7,729.9 1085.5,724.0 1086.3,729.4 1087.1,723.2 1087.9,729.2 1088.7,723.8 1089.5,729.4 1090.3,723.7 1091.1,729.8 1091.9,724.0 1092.7,729.0 1093.5,724.0 1094.3,729.2 1095.1,723.7 1095.9,729.3 1096.7,723.2 1097.5,729.0 1098.3,723.7 1099.1,729.0 1099.9,723.8 1100.7,729.4 1101.5,723.7 1102.3,729.0 1103.1,723.9 1103.9,729.6 1104.7,724.1 1105.5,729.4 1106.3,723.8 1107.1,729.8 1107.9,723.8 1108.7,729.0 1109.5,723.7 1110.3,728.9 1111.1,723.4 1111.9,729.4 1112.7,723.8 1113.5,729.2 1114.3,723.6 1115.1,729.5 1115.9,723.1 1116.7,729.0 1117.5,723.7 1118.3,729.3 1119.1,723.0 1119.9,729.1 1120.7,723.9 1121.5,729.2 1122.3,723.6 1123.1,728.8 1123.9,723.4 1124.7,729.0 1125.5,723.7 1126.3,728.9 1127.1,723.5 1127.9,728.9 1128.7,723.6 1129.5,729.4 1130.3,723.5 1131.1,728.8 1131.9,723.5 1132.7,729.3 1133.5,723.2 1134.3,729.2 1135.1,723.2 1135.9,729.2 1136.7,723.4 1137.5,729.0 1138.3,723.8 1139.1,729.2 1139.9,723.4 1140.7,729.4 1141.5,723.6 1142.3,729.3 1143.1,723.7 1143.9,729.4 1144.7,723.1 1145.5,728.7 1146.3,723.6 1147.1,729.4 1147.9,723.1 1148.7,729.2 1149.5,723.8 1150.3,728.7 1151.1,723.7 1151.9,729.4 1152.7,723.3 1153.5,729.6 1154.3,723.1 1155.1,729.4 1155.9,723.6 1156.7,729.3 1157.5,723.7 1158.3,728.9 1159.1,723.8 1159.9,728.8 1160.7,723.5 1161.5,728.7 1162.3,723.5 1163.1,728.8 1163.9,723.3 1164.7,728.7 1165.5,723.7 1166.3,728.9 1167.1,723.0 1167.9,729.3 1168.7,723.3 1169.5,729.2 1170.3,723.4 1171.1,729.1 1171.9,723.6 1172.7,728.8 1173.5,723.2 1174.3,729.5 1175.1,723.4 1175.9,728.7 1176.7,723.0 1177.5,729.7 1178.3,723.6 1179.1,729.2 1179.9,723.6 1180.7,729.1 1181.5,723.8 1182.3,728.9 1183.1,723.5 1183.9,729.0 1184.7,723.7 1185.5,729.1 1186.3,723.2 1187.1,729.2 1187.9,723.8 1188.7,729.0 1189.5,723.6 1190.3,729.0 1191.1,723.8 1191.9,729.2 1192.7,723.5 1193.5,729.3 1194.3,723.8 1195.1,728.9 1195.9,723.4 1196.7,729.2 1197.5,723.2 1198.3,728.7 1199.1,723.6 1199.9,729.1 1200.7,723.5 1201.5,728.8 1202.3,723.1 1203.1,729.5 1203.9,723.5 1204.7,729.0 1205.5,723.1 1206.3,728.7 1207.1,723.1 1207.9,729.2 1208.7,723.2 1209.5,729.0 1210.3,723.2 1211.1,728.9 1211.9,723.2 1212.7,728.6 1213.5,723.2 1214.3,728.9 1215.1,723.2 1215.9,728.8 1216.7,723.1 1217.5,728.9 1218.3,722.9 1219.1,728.2 1219.9,722.8 1220.7,728.3 1221.5,723.2 1222.3,728.1 1223.1,722.9 1223.9,728.9 1224.7,722.7 1225.5,727.9 1226.3,722.2 1227.1,727.8 1227.9,721.9 1228.7,727.5 1229.5,721.9 1230.3,727.9 1231.1,721.5 1231.9,727.4 1232.7,721.4 1233.5,726.7 1234.3,721.1 1235.1,726.6 1235.9,720.8 1236.7,726.9 1237.5,720.9 1238.3,725.7 1239.1,720.0 1239.9,726.1 1240.7,719.5 1241.5,725.3 1242.3,719.2 1243.1,724.7 1243.9,719.6 1244.7,724.8 1245.5,718.9 1246.3,724.8 1247.1,718.1 1247.9,724.2 1248.7,718.0 1249.5,723.9 1250.3,718.4 1251.1,724.1 1251.9,717.7 1252.7,723.6 1253.5,717.9 1254.3,723.7 1255.1,718.1 1255.9,723.5 1256.7,717.4 1257.5,723.7 1258.3,718.0 1259.1,723.6 1259.9,717.7 1260.7,723.8 1261.5,717.7 1262.3,723.3 1263.1,717.1 1263.9,723.1 1264.7,717.9 1265.5,723.6 1266.3,717.6 1267.1,722.8 1267.9,717.4 1268.7,722.9 1269.5,717.3 1270.3,723.2 1271.1,717.2 1271.9,722.4 1272.7,717.2 1273.5,723.1 1274.3,716.8 1275.1,723.1 1275.9,716.4 1276.7,722.8 1277.5,716.5 1278.3,722.5 1279.1,716.6 1279.9,721.9 1280.7,716.1 1281.5,722.7 1282.3,716.2 1283.1,721.4 1283.9,716.0 1284.7,722.3 1285.5,715.3 1286.3,721.0 1287.1,715.6 1287.9,721.4 1288.7,714.9 1289.5,721.1 1290.3,714.9 1291.1,720.7 1291.9,714.7 1292.7,721.1 1293.5,714.1 1294.3,720.4 1295.1,715.2 1295.9,720.6 1296.7,714.5 1297.5,719.9 1298.3,714.5 1299.1,720.7 1299.9,714.8 1300.7,719.9 1301.5,714.8 1302.3,720.1 1303.1,714.4 1303.9,720.6 1304.7,714.8 1305.5,720.0 1306.3,714.0 1307.1,720.9 1307.9,714.8 1308.7,720.5 1309.5,715.3 1310.3,721.5 1311.1,714.9 1311.9,721.1 1312.7,714.6 1313.5,721.4 1314.3,715.4 1315.1,721.0 1315.9,715.6 1316.7,721.8 1317.5,716.3 1318.3,721.9 1319.1,716.5 1319.9,722.6 1320.7,716.8 1321.5,722.2 1322.3,716.6 1323.1,723.1 1323.9,716.6 1324.7,723.7 1325.5,717.6 1326.3,723.5 1327.1,717.4 1327.9,723.9 1328.7,717.8 1329.5,723.9 1330.3,718.3 1331.1,724.0 1331.9,719.1 1332.7,725.1 1333.5,719.4 1334.3,725.1 1335.1,719.2 1335.9,725.5 1336.7,719.3 1337.5,725.9 1338.3,719.7 1339.1,726.3 1339.9,720.7 1340.7,725.9 1341.5,720.9 1342.3,726.2 1343.1,720.7 1343.9,727.0 1344.7,721.5 1345.5,726.6 1346.3,721.5 1347.1,727.3 1347.9,721.4 1348.7,727.3 1349.5,721.7 1350.3,727.8 1351.1,721.7 1351.9,727.4 1352.7,722.0 1353.5,728.1 1354.3,722.1 1355.1,728.0 1355.9,722.8 1356.7,728.2 1357.5,722.8 1358.3,728.3 1359.1,722.6 1359.9,728.6 1360.7,722.8 1361.5,728.7 1362.3,723.3 1363.1,728.3 1363.9,723.2 1364.7,729.0 1365.5,723.1 1366.3,729.0 1367.1,723.2 1367.9,729.0 1368.7,722.8 1369.5,729.0 1370.3,723.0 1371.1,729.2 1371.9,723.1 1372.7,729.0 1373.5,723.5 1374.3,728.4 1375.1,722.8 1375.9,728.4 1376.7,723.2 1377.5,728.2 1378.3,722.8 1379.1,728.0 1379.9,722.5 1380.7,728.1 1381.5,722.4 1382.3,728.4 1383.1,722.4 1383.9,727.9 1384.7,722.3 1385.5,728.1 1386.3,722.1 1387.1,727.6 1387.9,721.6 1388.7,727.9 1389.5,721.9 1390.3,727.1 1391.1,721.8 1391.9,727.4 1392.7,721.8 1393.5,727.5 1394.3,720.9 1395.1,726.7 1395.9,721.5 1396.7,726.7 1397.5,720.8 1398.3,726.7 1399.1,721.2 1399.9,726.2 1400.7,720.9 1401.5,726.6 1402.3,720.0 1403.1,725.4 1403.9,720.0 1404.7,725.2 1405.5,719.8 1406.3,725.3 1407.1,718.9 1407.9,725.4 1408.7,719.0 1409.5,724.3 1410.3,718.0 1411.1,724.3 1411.9,718.6 1412.7,724.0 1413.5,717.8 1414.3,723.2 1415.1,717.5 1415.9,722.9 1416.7,717.0 1417.5,722.6 1418.3,716.7 1419.1,722.6 1419.9,716.5 1420.7,722.8 1421.5,715.9 1422.3,721.6 1423.1,715.5 1423.9,721.3 1424.7,715.4 1425.5,721.1 1426.3,715.1 1427.1,720.8 1427.9,714.6 1428.7,720.3 1429.5,713.9 1430.3,720.2 1431.1,713.0 1431.9,719.3 1432.7,713.0 1433.5,719.2 1434.3,713.3 1435.1,719.1 1435.9,713.2 1436.7,719.2 1437.5,712.5 1438.3,718.7 1439.1,712.8 1439.9,718.7 1440.7,712.0 1441.5,718.5 1442.3,711.9 1443.1,717.7 1443.9,711.9 1444.7,718.3 1445.5,712.1 1446.3,718.4 1447.1,711.9 1447.9,717.6 1448.7,712.4 1449.5,718.2 1450.3,711.5 1451.1,717.8 1451.9,711.5 1452.7,717.8 1453.5,711.8 1454.3,717.2 1455.1,711.9 1455.9,717.6 1456.7,711.6 1457.5,717.4 1458.3,712.1 1459.1,717.5 1459.9,712.2 1460.7,718.2 1461.5,712.2 1462.3,717.8 1463.1,711.3 1463.9,717.8 1464.7,712.3 1465.5,718.3 1466.3,711.7 1467.1,718.8 1467.9,712.6 1468.7,718.2 1469.5,712.3 1470.3,718.3 1471.1,712.7 1471.9,718.8 1472.7,713.3 1473.5,718.9 1474.3,713.3 1475.1,719.1 1475.9,713.8 1476.7,719.4 1477.5,713.0 1478.3,719.8 1479.1,714.3 1479.9,719.5 1480.7,713.9 1481.5,719.7 1482.3,714.4 1483.1,720.5 1483.9,714.4 1484.7,720.5 1485.5,714.8 1486.3,720.7 1487.1,714.9 1487.9,721.5 1488.7,716.2 1489.5,721.8 1490.3,716.1 1491.1,721.8 1491.9,716.3 1492.7,722.9 1493.5,716.5 1494.3,722.3 1495.1,717.5 1495.9,723.1 1496.7,717.7 1497.5,723.2 1498.3,717.1 1499.1,723.4 1499.9,718.5 1500.7,723.6 1501.5,718.3 1502.3,724.4 1503.1,718.5 1503.9,724.4 1504.7,719.2 1505.5,724.4 1506.3,719.5 1507.1,724.8 1507.9,719.1 1508.7,725.2 1509.5,720.2 1510.3,725.7 1511.1,719.8 1511.9,725.6 1512.7,720.2 1513.5,726.5 1514.3,721.0 1515.1,726.7 1515.9,721.2 1516.7,726.9 1517.5,721.3 1518.3,727.2 1519.1,721.7 1519.9,727.0 1520.7,721.7 1521.5,727.5 1522.3,722.2 1523.1,728.0 1523.9,722.3 1524.7,728.3 1525.5,722.8 1526.3,728.3 1527.1,723.2 1527.9,728.2 1528.7,722.7 1529.5,728.5 1530.3,723.4 1531.1,728.6 1531.9,723.2 1532.7,729.0 1533.5,723.8 1534.3,729.4 1535.1,723.7 1535.9,729.5 1536.7,723.8 1537.5,729.7 1538.3,724.3 1539.1,729.9 1539.9,723.8 1540.7,730.1 1541.5,724.6 1542.3,729.8 1543.1,724.7 1543.9,730.0 1544.7,724.6 1545.5,730.6 1546.3,724.8 1547.1,730.2 1547.9,724.5 1548.7,730.2 1549.5,725.0 1550.3,730.3 1551.1,725.3 1551.9,730.4 1552.7,725.2 1553.5,731.0 1554.3,725.6 1555.1,731.1 1555.9,725.8 1556.7,731.0 1557.5,725.8 1558.3,731.0 1559.1,725.7 1559.9,731.0 1560.7,725.9 1561.5,731.1 1562.3,725.7 1563.1,731.4 1563.9,726.0 1564.7,731.0 1565.5,726.2 1566.3,731.1 1567.1,726.2 1567.9,731.1 1568.7,725.9 1569.5,731.1 1570.3,726.0 1571.1,731.2 1571.9,726.2 1572.7,731.3 1573.5,726.1 1574.3,731.3 1575.1,726.3 1575.9,731.4 1576.7,725.9 1577.5,731.1 1578.3,726.4 1579.1,731.4 1579.9,726.2 1580.7,731.2 1581.5,725.8 1582.3,731.3 1583.1,725.9 1583.9,731.5 1584.7,726.4 1585.5,731.3 1586.3,726.4 1587.1,731.4 1587.9,725.9 1588.7,731.1 1589.5,725.8 1590.3,731.1 1591.1,726.3 1591.9,731.2 1592.7,725.9 1593.5,731.8 1594.3,725.9 1595.1,731.4 1595.9,726.0 1596.7,731.5 1597.5,726.2 1598.3,731.5 1599.1,726.3 1599.9,731.4 1600.7,726.0 1601.5,731.2 1602.3,726.3 1603.1,731.6 1603.9,726.2 1604.7,731.2 1605.5,726.2 1606.3,731.3 1607.1,725.7 1607.9,731.4 1608.7,725.8 1609.5,731.4 1610.3,725.9 1611.1,731.6 1611.9,726.1 1612.7,731.6 1613.5,726.3 1614.3,731.2 1615.1,725.8 1615.9,731.2 1616.7,726.3 1617.5,731.6 1618.3,726.1 1619.1,731.7 1619.9,726.5 1620.7,732.0 1621.5,726.4 1622.3,731.7 1623.1,725.9 1623.9,731.8 1624.7,726.5 1625.5,731.4 1626.3,726.3 1627.1,731.8 1627.9,726.4 1628.7,731.5 1629.5,726.7 1630.3,731.8 1631.1,726.4 1631.9,731.8 1632.7,726.5 1633.5,731.9 1634.3,726.8 1635.1,731.8 1635.9,726.7 1636.7,731.9 1637.5,726.6 1638.3,731.9 1639.1,726.5 1639.9,732.1 1640.7,726.5 1641.5,731.6 1642.3,726.6 1643.1,731.8 1643.9,726.9 1644.7,731.9 1645.5,726.6 1646.3,732.2 1647.1,727.0 1647.9,731.8 1648.7,726.7 1649.5,732.2 1650.3,727.0 1651.1,731.8 1651.9,726.7 1652.7,732.1 1653.5,726.7 1654.3,731.9 1655.1,726.5 1655.9,732.2 1656.7,727.0 1657.5,732.0 1658.3,727.2 1659.1,732.2 1659.9,727.0 1660.7,732.0 1661.5,726.9 1662.3,732.3 1663.1,726.8 1663.9,732.1 1664.7,726.9 1665.5,732.1 1666.3,726.8 1667.1,732.3 1667.9,726.9 1668.7,732.5 1669.5,727.0 1670.3,732.2 1671.1,727.1 1671.9,732.3 1672.7,727.1 1673.5,732.2 1674.3,727.2 1675.1,732.1 1675.9,726.9 1676.7,732.2 1677.5,726.9 1678.3,732.0 1679.1,726.9 1679.9,732.2 1680.7,726.9 1681.5,732.1 1682.3,727.1 1683.1,732.2 1683.9,727.2 1684.7,732.3 1685.5,727.0 1686.3,732.0 1687.1,727.0 1687.9,731.9 1688.7,726.7 1689.5,732.3 1690.3,726.7 1691.1,732.5 1691.9,726.7 1692.7,732.0 1693.5,726.9 1694.3,731.9 1695.1,726.9 1695.9,732.3 1696.7,726.8 1697.5,732.1 1698.3,726.8 1699.1,732.1 1699.9,726.8 1700.7,732.0 1701.5,726.8 1702.3,731.8 1703.1,726.8 1703.9,732.1 1704.7,726.9 1705.5,731.9 1706.3,726.6 1707.1,731.8 1707.9,726.9 1708.7,732.1 1709.5,726.9 1710.3,731.8 1711.1,726.5 1711.9,731.9 1712.7,726.5 1713.5,732.0 1714.3,726.9 1715.1,731.7 1715.9,726.4 1716.7,731.7 1717.5,726.6 1718.3,732.0 1719.1,726.8 1719.9,732.0 1720.7,726.4 1721.5,731.8 1722.3,726.7 1723.1,731.7 1723.9,726.3 1724.7,731.6 1725.5,726.6 1726.3,731.4 1727.1,726.6 1727.9,731.5 1728.7,726.1 1729.5,731.3 1730.3,726.3 1731.1,731.4 1731.9,726.3 1732.7,731.4 1733.5,726.2 1734.3,731.2 1735.1,726.0 1735.9,731.4 1736.7,726.2 1737.5,731.6 1738.3,726.0 1739.1,731.1 1739.9,725.8 1740.7,731.3 1741.5,726.1 1742.3,731.1 1743.1,726.2 1743.9,731.0 1744.7,726.1 1745.5,731.1 1746.3,725.6 1747.1,731.2 1747.9,726.0 1748.7,731.0 1749.5,725.9 1750.3,730.8 1751.1,725.8 1751.9,731.0 1752.7,725.5 1753.5,730.9 1754.3,725.6 1755.1,731.0 1755.9,725.9 1756.7,730.9 1757.5,725.7 1758.3,730.7 1759.1,725.9 1759.9,731.1 1760.7,725.8 1761.5,731.0 1762.3,725.6 1763.1,730.6 1763.9,725.3 1764.7,730.9 1765.5,725.1 1766.3,730.9 1767.1,725.4 1767.9,730.7 1768.7,725.3 1769.5,730.8 1770.3,725.6 1771.1,730.8 1771.9,725.0 1772.7,730.7 1773.5,725.2 1774.3,730.9 1775.1,725.2 1775.9,730.6 1776.7,725.3 1777.5,730.7 1778.3,725.2 1779.1,730.3 1779.9,724.8 1780.7,730.4 1781.5,725.1 1782.3,730.4 1783.1,725.4 1783.9,730.7 1784.7,725.5 1785.5,730.4 1786.3,725.5 1787.1,730.3 1787.9,725.0 1788.7,730.5 1789.5,725.0 1790.3,730.5 1791.1,725.6 1791.9,730.8 1792.7,725.6 1793.5,730.5 1794.3,725.3 1795.1,730.6 1795.9,725.4 1796.7,730.6 1797.5,725.4 1798.3,730.6 1799.1,725.5 1799.9,730.4 1800.7,725.7 1801.5,730.7 1802.3,725.3 1803.1,731.0 1803.9,725.3 1804.7,730.8 1805.5,725.4 1806.3,730.9 1807.1,725.4 1807.9,731.0 1808.7,725.6 1809.5,730.8 1810.3,725.4 1811.1,730.6 1811.9,725.8 1812.7,731.0 1813.5,725.9 1814.3,731.1 1815.1,725.4 1815.9,730.7 1816.7,725.5 1817.5,730.8 1818.3,725.8 1819.1,731.2 1819.9,725.5 1820.7,731.1 1821.5,725.8 1822.3,731.2 1823.1,725.7 1823.9,731.3 1824.7,725.7 1825.5,730.9 1826.3,725.8 1827.1,731.4 1827.9,725.8 1828.7,731.4 1829.5,726.4 1830.3,731.6 1831.1,726.3 1831.9,731.4 1832.7,726.6 1833.5,731.5 1834.3,726.4 1835.1,731.7 1835.9,726.6 1836.7,731.9 1837.5,727.0 1838.3,732.2 1839.1,727.3 1839.9,732.5 1840.7,727.4 1841.5,733.2 1842.3,727.8 1843.1,733.1 1843.9,728.1 1844.7,733.1 1845.5,728.4 1846.3,733.9 1847.1,728.6 1847.9,733.5 1848.7,728.5 1849.5,734.0 1850.3,728.7 1851.1,734.0 1851.9,728.7 1852.7,734.1 1853.5,729.3 1854.3,734.1 1855.1,729.1 1855.9,734.3 1856.7,729.0 1857.5,734.1 1858.3,729.1 1859.1,734.3 1859.9,729.2 1860.7,734.3 1861.5,729.4 1862.3,734.3 1863.1,729.4 1863.9,734.4 1864.7,729.3 1865.5,734.6 1866.3,729.5 1867.1,734.4 1867.9,729.2 1868.7,734.5 1869.5,729.1 1870.3,734.3 1871.1,729.1 1871.9,734.2 1872.7,728.9 1873.5,734.3 1874.3,729.0 1875.1,733.9 1875.9,729.0 1876.7,733.9 1877.5,729.0 1878.3,733.9 1879.1,728.7 1879.9,733.9 1880.7,728.9 1881.5,733.9 1882.3,729.0 1883.1,734.0 1883.9,728.8 1884.7,734.1 1885.5,728.7 1886.3,734.1 1887.1,728.6 1887.9,733.9 1888.7,729.0 1889.5,733.7 1890.3,728.9 1891.1,734.1 1891.9,728.9 1892.7,733.9 1893.5,728.8 1894.3,733.8 1895.1,728.6 1895.9,733.7 1896.7,728.9 1897.5,733.7 1898.3,728.5 1899.1,733.8 1899.9,728.8 1900.7,733.6 1901.5,728.4 1902.3,733.7 1903.1,728.6 1903.9,733.8 1904.7,728.5 1905.5,734.1 1906.3,728.7 1907.1,733.8 1907.9,728.6 1908.7,733.6 1909.5,728.6 1910.3,734.0 1911.1,728.6 1911.9,733.7 1912.7,728.7 1913.5,734.1 1914.3,728.8 1915.1,734.1 1915.9,729.0 1916.7,733.9 1917.5,728.8 1918.3,734.1 1919.1,728.9 1919.9,733.9 1920.7,728.8 1921.5,733.8 1922.3,728.9 1923.1,734.0 1923.9,728.8 1924.7,734.0 1925.5,728.9 1926.3,734.2 1927.1,728.9 1927.9,734.3 1928.7,729.0 1929.5,734.2 1930.3,728.8 1931.1,734.0 1931.9,729.2 1932.7,734.0 1933.5,729.1 1934.3,734.1 1935.1,729.1 1935.9,734.4 1936.7,729.3 1937.5,734.1 1938.3,729.2 1939.1,734.1 1939.9,729.3 1940.7,734.5 1941.5,729.2 1942.3,734.5 1943.1,729.2 1943.9,734.4 1944.7,729.3 1945.5,734.3 1946.3,729.1 1947.1,734.4 1947.9,729.1 1948.7,734.7 1949.5,729.4 1950.3,734.5 1951.1,728.9 1951.9,734.2 1952.7,729.4 1953.5,734.5 1954.3,729.4 1955.1,734.6 1955.9,729.4 1956.7,734.4 1957.5,729.4 1958.3,734.5 1959.1,729.6 1959.9,734.5 1960.7,729.6 1961.5,734.8 1962.3,729.4 1963.1,734.4 1963.9,729.7 1964.7,734.5 1965.5,729.1 1966.3,734.6 1967.1,729.5 1967.9,734.7 1968.7,729.6 1969.5,734.7 1970.3,729.6 1971.1,734.6 1971.9,729.7 1972.7,734.7 1973.5,729.6 1974.3,734.6 1975.1,729.6 1975.9,734.6 1976.7,729.9 1977.5,734.9 1978.3,729.6 1979.1,735.0 1979.9,729.7 1980.7,734.8 1981.5,729.6 1982.3,735.3 1983.1,729.7 1983.9,735.1 1984.7,730.0 1985.5,735.2 1986.3,730.1 1987.1,735.0 1987.9,730.0 1988.7,734.8 1989.5,729.9 1990.3,734.9 1991.1,729.8 1991.9,735.0 1992.7,730.0 1993.5,734.8 1994.3,729.7 1995.1,735.1 1995.9,729.8 1996.7,735.3 1997.5,729.7 1998.3,735.3 1999.1,729.7 1999.9,735.1 2000.7,730.1 2001.5,735.2 2002.3,730.1 2003.1,735.1 2003.9,730.0 2004.7,735.4 2005.5,729.7 2006.3,734.8 2007.1,730.0 2007.9,735.2 2008.7,729.9 2009.5,734.9"/>
</g>
<g stroke="#110f0f" stroke-width="3.3" fill="none" stroke-linecap="butt">
<path d="M332.6,53.3 H2086.25"/>
<path d="M350.65000000000003,1298.6 H2086.25"/>
<path d="M352.3,53.3 V640.5"/><path d="M352.3,710.3 V1298.6"/>
<path d="M2084.6,53.3 V640.5"/><path d="M2084.6,710.3 V1298.6"/>
<path d="M332.6,151.2 H352.3"/>
<path d="M332.6,249.2 H352.3"/>
<path d="M332.6,347.1 H352.3"/>
<path d="M332.6,445.1 H352.3"/>
<path d="M332.6,543.0 H352.3"/>
<path d="M332.6,893.5 H352.3"/>
<path d="M332.6,1075.5 H352.3"/>
<path d="M332.6,1257.5 H352.3"/>
<path d="M443.8,1298.6 V1317.6"/>
<path d="M746.8,1298.6 V1317.6"/>
<path d="M1050.6,1298.6 V1317.6"/>
<path d="M1355.4,1298.6 V1317.6"/>
<path d="M1658.9,1298.6 V1317.6"/>
<path d="M1962.7,1298.6 V1317.6"/>
</g>
<g stroke="#110f0f" stroke-width="2.3" fill="none" stroke-linecap="butt">
<path d="M316.5,676.1 L388.1,604.9"/>
<path d="M316.5,745.9 L388.1,674.7"/>
<path d="M2048.8,676.1 L2120.4,604.9"/>
<path d="M2048.8,745.9 L2120.4,674.7"/>
</g>
<g font-size="59" text-anchor="end">
<text x="304.4" y="73.2">70000</text>
<text x="304.4" y="171.2">60000</text>
<text x="304.4" y="269.1">50000</text>
<text x="304.4" y="367.0">40000</text>
<text x="304.4" y="465.0">30000</text>
<text x="304.4" y="562.9">20000</text>
<text x="304.4" y="659.4">10000</text>
<text x="304.4" y="729.7">6000</text>
<text x="304.4" y="911.7">4000</text>
<text x="304.4" y="1093.7">2000</text>
<text x="304.4" y="1275.7">0</text>
</g>
<g font-size="59" text-anchor="middle">
<text x="443.8" y="1396.7">0</text>
<text x="746.8" y="1396.7">5</text>
<text x="1050.6" y="1396.7">10</text>
<text x="1355.4" y="1396.7">15</text>
<text x="1658.9" y="1396.7">20</text>
<text x="1962.7" y="1396.7">25</text>
<text x="568.5" y="372">1</text>
<text x="786.6" y="239.5">2</text>
<text x="653" y="811.6">1</text>
<text x="775" y="1040">2</text>
<text x="1062" y="1016">3</text>
<text x="1309.5" y="947.5">4</text>
<text x="1442" y="836.9">5</text>
</g>
<g fill="none" stroke-linecap="round">
<path d="M1758,472.1 H1891.3" stroke="#110f0f" stroke-width="6"/>
<path d="M1758.6,545.6 H1891" stroke="#9a9c9b" stroke-width="4.9"/>
</g>
<g font-size="59"><text x="1923.0" y="491.4">A</text><text x="1923.0" y="564.0">B</text></g>
<text x="1220" y="1515.7" font-size="69.5" text-anchor="middle">Time (min)</text>
<text transform="translate(84.2,676.9) rotate(-90) scale(0.975,1)" font-size="69.5" text-anchor="middle">Intensity (counts)</text>
</svg></body></html>
